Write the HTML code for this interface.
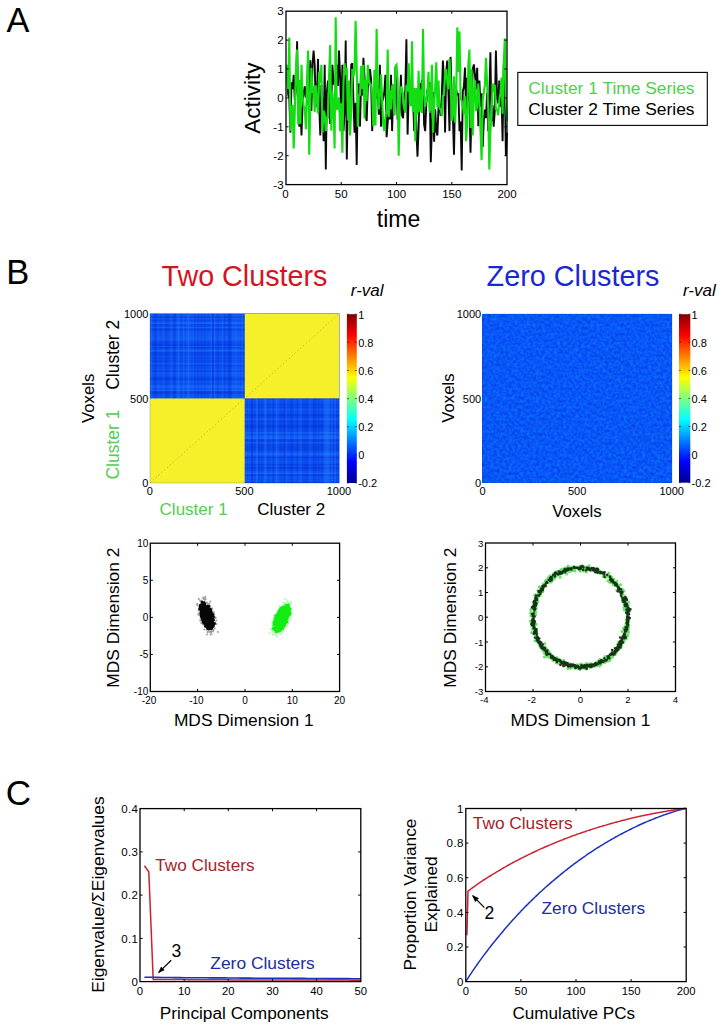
<!DOCTYPE html>
<html><head><meta charset="utf-8"><title>Figure</title>
<style>html,body{margin:0;padding:0;background:#fff;}svg{display:block;font-family:"Liberation Sans", sans-serif;}</style></head><body>
<svg width="725" height="1031" viewBox="0 0 725 1031">
<rect width="725" height="1031" fill="#fff"/>
<defs>
<linearGradient id="jet" x1="0" y1="1" x2="0" y2="0"><stop offset="0" stop-color="#00008f"/><stop offset="0.125" stop-color="#0000ff"/><stop offset="0.375" stop-color="#00ffff"/><stop offset="0.625" stop-color="#ffff00"/><stop offset="0.875" stop-color="#ff0000"/><stop offset="1" stop-color="#800000"/></linearGradient>
<filter id="nz" x="0" y="0" width="1" height="1" color-interpolation-filters="sRGB"><feTurbulence type="fractalNoise" baseFrequency="0.33" numOctaves="2" seed="7" result="t"/><feColorMatrix in="t" type="matrix" values="0 0 0 0 0.03  0.33 0 0 0 0.175  0 0.06 0 0 0.935  0 0 0 0 1"/></filter>
<marker id="ah" viewBox="0 0 10 10" refX="9" refY="5" markerWidth="7" markerHeight="7" orient="auto-start-reverse" markerUnits="userSpaceOnUse"><path d="M0 1.2L10 5L0 8.8z" fill="#000"/></marker>
</defs>
<text x="6.5" y="32.3" font-size="34.3" fill="#000" text-anchor="start">A</text>
<text x="6.2" y="283.6" font-size="34.5" fill="#000" text-anchor="start">B</text>
<text x="5.7" y="805.4" font-size="35" fill="#000" text-anchor="start">C</text>
<polyline points="287.1,71.9 288.2,94.8 289.3,98.3 290.4,132.6 291.5,82.3 292.6,89.2 293.7,74.7 294.8,100.1 295.9,90 297.1,41.3 298.2,109.8 299.3,126.8 300.4,107.2 301.5,135.5 302.6,105 303.7,92.8 304.8,86.3 305.9,97.4 307,89.9 308.1,102.8 309.2,107.5 310.3,60.3 311.4,111 312.5,64.9 313.6,50.5 314.7,64.7 315.8,106.6 316.9,97.5 318,58.9 319.1,103.8 320.3,135.5 321.4,85 322.5,103.5 323.6,141.2 324.7,64.7 325.8,169.6 326.9,91.8 328,80.6 329.1,95.2 330.2,124 331.3,101.9 332.4,64.7 333.5,83.5 334.6,84.9 335.7,75.6 336.8,64.7 337.9,85.9 339,50.5 340.1,76.3 341.2,115.2 342.4,64.7 343.5,131.1 344.6,109.5 345.7,40.4 346.8,159.5 347.9,101.1 349,89.2 350.1,111.1 351.2,64.7 352.3,63.2 353.4,99 354.5,132.6 355.6,102.7 356.7,164.9 357.8,90.8 358.9,83.5 360,126.6 361.1,82.4 362.2,95.4 363.4,57.7 364.5,76.3 365.6,115.5 366.7,121 367.8,87.5 368.9,83.8 370,69 371.1,79.6 372.2,131.1 373.3,96.4 374.4,103.7 375.5,92.2 376.6,98.9 377.7,85.4 378.8,114.8 379.9,64.7 381,126.8 382.1,102.1 383.2,98.2 384.3,92.1 385.4,74.8 386.6,137.2 387.7,122.3 388.8,110.3 389.9,119.4 391,74.8 392.1,131.1 393.2,90.6 394.3,115.2 395.4,67.5 396.5,79.5 397.6,118.7 398.7,118.7 399.8,110.3 400.9,74.8 402,115.1 403.1,118.1 404.2,98.9 405.3,90.3 406.4,39.2 407.6,134.6 408.7,93 409.8,88.7 410.9,92.1 412,98.7 413.1,101.1 414.2,131.1 415.3,92.1 416.4,131.1 417.5,156.6 418.6,127.7 419.7,83.5 420.8,91.3 421.9,80.5 423,79.3 424.1,124.7 425.2,131.1 426.3,104.6 427.4,89.2 428.5,96.1 429.6,82 430.8,162.3 431.9,126.8 433,92.1 434.1,141.8 435.2,109.4 436.3,131.1 437.4,135.5 438.5,107.3 439.6,103.7 440.7,116 441.8,96.1 442.9,60.6 444,80.6 445.1,132.6 446.2,71.6 447.3,60.6 448.4,91.4 449.5,131.1 450.6,56.9 451.8,99.2 452.9,118 454,154.8 455.1,95.1 456.2,89.2 457.3,95.3 458.4,93.1 459.5,131.1 460.6,121.4 461.7,170.4 462.8,91.9 463.9,86.3 465,67.5 466.1,115.5 467.2,77.7 468.3,92.7 469.4,102.6 470.5,152.8 471.6,109.4 472.7,69.2 473.9,64.4 475,75.3 476.1,89.2 477.2,67.7 478.3,126.2 479.4,80.6 480.5,106.7 481.6,93.2 482.7,147 483.8,120.9 484.9,109.5 486,118.1 487.1,92.8 488.2,131.1 489.3,95.9 490.4,52.2 491.5,121 492.6,105.4 493.7,126.8 494.8,110.6 495.9,50.5 497.1,98.7 498.2,103.4 499.3,80.6 500.4,106.6 501.5,96.2 502.6,141.2 503.7,64.7 504.8,84.4 505.9,155.7 507,132.6" fill="none" stroke="#0a0a0a" stroke-width="1.9" stroke-linejoin="miter" stroke-miterlimit="3"/>
<polyline points="287.1,64.7 288.2,89.1 289.3,37.5 290.4,131.1 291.5,109.5 292.6,105.1 293.7,148.5 294.8,110.6 295.9,69 297.1,49.6 298.2,124.5 299.3,80 300.4,123.9 301.5,64.7 302.6,96.9 303.7,106.1 304.8,108.9 305.9,129.2 307,78 308.1,50.5 309.2,154.8 310.3,102.1 311.4,67.8 312.5,93.1 313.6,86.3 314.7,112.3 315.8,85.3 316.9,101.1 318,113.5 319.1,71.9 320.3,82.8 321.4,64.7 322.5,132.6 323.6,110.6 324.7,114.2 325.8,131.1 326.9,116.6 328,118.6 329.1,75.2 330.2,45 331.3,130.7 332.4,92.1 333.5,105.1 334.6,148.5 335.7,17.3 336.8,109.8 337.9,106.6 339,97.3 340.1,131.1 341.2,103.3 342.4,152.8 343.5,80.6 344.6,63.2 345.7,75.3 346.8,67.8 347.9,120.5 349,80.8 350.1,135.5 351.2,110.1 352.3,69 353.4,76.7 354.5,70.9 355.6,21 356.7,64.7 357.8,126.8 358.9,94.9 360,94.8 361.1,66.1 362.2,89 363.4,64.7 364.5,118.6 365.6,79.7 366.7,101 367.8,64.7 368.9,80.6 370,84.2 371.1,84.9 372.2,92.9 373.3,126.1 374.4,69.7 375.5,125.6 376.6,29.1 377.7,85.5 378.8,109.5 379.9,95 381,74.3 382.1,98.4 383.2,123.9 384.3,131.1 385.4,117.6 386.6,109.9 387.7,49.6 388.8,117.3 389.9,90.3 391,109.5 392.1,86.3 393.2,84.2 394.3,115.2 395.4,66.1 396.5,64.7 397.6,80.2 398.7,155.7 399.8,99.5 400.9,86.5 402,89.2 403.1,94.9 404.2,108.6 405.3,112.7 406.4,84.9 407.6,91.6 408.7,63.2 409.8,101.7 410.9,106.3 412,41.3 413.1,111.9 414.2,88.1 415.3,141.2 416.4,88.1 417.5,114.8 418.6,70.7 419.7,111.6 420.8,89.3 421.9,113.1 423,29.1 424.1,93.3 425.2,106.6 426.3,99.5 427.4,92.3 428.5,71.9 429.6,112.8 430.8,101.3 431.9,64.7 433,132.6 434.1,108.4 435.2,86.6 436.3,62.4 437.4,107.2 438.5,80.5 439.6,108.5 440.7,109.5 441.8,116.2 442.9,96.1 444,95.3 445.1,72.8 446.2,69 447.3,83.1 448.4,89.3 449.5,58.9 450.6,81 451.8,121 452.9,115.3 454,76.2 455.1,122.6 456.2,96.7 457.3,27.4 458.4,71.9 459.5,31.4 460.6,98.6 461.7,100.7 462.8,106.6 463.9,114 465,96.4 466.1,141.2 467.2,124.2 468.3,64.7 469.4,49.6 470.5,128 471.6,69.4 472.7,135.5 473.9,90.4 475,80.4 476.1,111 477.2,106.6 478.3,83.5 479.4,100.5 480.5,130.7 481.6,160.3 482.7,100.7 483.8,92.1 484.9,85.1 486,57.7 487.1,83.9 488.2,108.2 489.3,169.6 490.4,131.1 491.5,117.3 492.6,83.5 493.7,92.4 494.8,84.8 495.9,109.2 497.1,109.8 498.2,115.2 499.3,100.5 500.4,92.9 501.5,77.7 502.6,113.7 503.7,64.7 504.8,38.4 505.9,99.8 507,121" fill="none" stroke="#12de12" stroke-width="2.1" stroke-linejoin="miter" stroke-miterlimit="3"/>
<rect x="286" y="11.2" width="221" height="173.4" fill="none" stroke="#000" stroke-width="1.3"/>
<path d="M341.2 184.6v-2.6 M341.2 11.2v2.6 M396.5 184.6v-2.6 M396.5 11.2v2.6 M451.8 184.6v-2.6 M451.8 11.2v2.6 M286 155.7h2.6 M507 155.7h-2.6 M286 126.8h2.6 M507 126.8h-2.6 M286 97.9h2.6 M507 97.9h-2.6 M286 69h2.6 M507 69h-2.6 M286 40.1h2.6 M507 40.1h-2.6" stroke="#000" stroke-width="1" fill="none"/>
<text x="283.6" y="15.4" font-size="11.5" fill="#000" text-anchor="end">3</text>
<text x="283.6" y="44.3" font-size="11.5" fill="#000" text-anchor="end">2</text>
<text x="283.6" y="73.2" font-size="11.5" fill="#000" text-anchor="end">1</text>
<text x="283.6" y="102.1" font-size="11.5" fill="#000" text-anchor="end">0</text>
<text x="283.6" y="131" font-size="11.5" fill="#000" text-anchor="end">-1</text>
<text x="283.6" y="159.9" font-size="11.5" fill="#000" text-anchor="end">-2</text>
<text x="283.6" y="188.8" font-size="11.5" fill="#000" text-anchor="end">-3</text>
<text x="285.5" y="198" font-size="11.5" fill="#000" text-anchor="middle">0</text>
<text x="341.2" y="198" font-size="11.5" fill="#000" text-anchor="middle">50</text>
<text x="396.5" y="198" font-size="11.5" fill="#000" text-anchor="middle">100</text>
<text x="451.8" y="198" font-size="11.5" fill="#000" text-anchor="middle">150</text>
<text x="507" y="198" font-size="11.5" fill="#000" text-anchor="middle">200</text>
<text x="260" y="98" font-size="22.5" fill="#000" text-anchor="middle" transform="rotate(-90 260 98)">Activity</text>
<text x="398.5" y="226.8" font-size="23" fill="#000" text-anchor="middle">time</text>
<rect x="517.8" y="72.4" width="189.5" height="53" fill="#fff" stroke="#000" stroke-width="1.1"/>
<text x="528.3" y="93.6" font-size="17.4" fill="#4fcf4f" text-anchor="start">Cluster 1 Time Series</text>
<text x="528.3" y="114.8" font-size="17.4" fill="#000" text-anchor="start">Cluster 2 Time Series</text>
<text x="244.4" y="285.9" font-size="28.7" fill="#d6141e" text-anchor="middle">Two Clusters</text>
<text x="573" y="285.9" font-size="28.8" fill="#1a28d2" text-anchor="middle">Zero Clusters</text>
<text x="350.8" y="296.2" font-size="17" fill="#000" text-anchor="start" font-style="italic">r-val</text>
<text x="683" y="296.2" font-size="17" fill="#000" text-anchor="start" font-style="italic">r-val</text>
<rect x="150" y="313.6" width="189.3" height="169.4" fill="#0c50f3"/>
<rect x="244.7" y="313.6" width="94.6" height="84.8" fill="#f6f02a"/>
<rect x="150" y="398.4" width="94.7" height="84.6" fill="#f6f02a"/>
<path d="M150 320.2H244.7M150 324.6H244.7M150 326H244.7M150 330.4H244.7M150 342.1H244.7M150 343.6H244.7M150 353.8H244.7M150 355.3H244.7M150 358.2H244.7M150 361.1H244.7M150 380.1H244.7" stroke="#0424c8" stroke-opacity="0.12" stroke-width="1.7" fill="none"/>
<path d="M150 329H244.7M150 352.3H244.7M150 365.5H244.7M150 371.4H244.7" stroke="#0424c8" stroke-opacity="0.22" stroke-width="1.7" fill="none"/>
<path d="M150 317.3H244.7M150 345H244.7M150 348H244.7M150 378.7H244.7M150 391.8H244.7M150 393.3H244.7" stroke="#0424c8" stroke-opacity="0.34" stroke-width="1.7" fill="none"/>
<path d="M150 315.8H244.7M150 331.9H244.7M150 333.3H244.7M150 334.8H244.7M150 336.3H244.7M150 340.6H244.7M150 346.5H244.7M150 349.4H244.7M150 356.7H244.7M150 369.9H244.7M150 374.3H244.7M150 375.7H244.7M150 381.6H244.7M150 394.7H244.7M150 397.7H244.7" stroke="#2c8cff" stroke-opacity="0.12" stroke-width="1.7" fill="none"/>
<path d="M150 318.7H244.7M150 337.7H244.7M150 339.2H244.7M150 364H244.7M150 372.8H244.7" stroke="#2c8cff" stroke-opacity="0.22" stroke-width="1.7" fill="none"/>
<path d="M150 323.1H244.7M150 327.5H244.7M150 350.9H244.7M150 386H244.7M150 387.4H244.7M150 390.4H244.7" stroke="#2c8cff" stroke-opacity="0.34" stroke-width="1.7" fill="none"/>
<path d="M154.1 313.6V398.4M160.6 313.6V398.4M167.1 313.6V398.4M168.8 313.6V398.4M181.8 313.6V398.4M194.9 313.6V398.4M198.2 313.6V398.4M201.4 313.6V398.4M204.7 313.6V398.4M243.9 313.6V398.4" stroke="#0424c8" stroke-opacity="0.12" stroke-width="1.7" fill="none"/>
<path d="M165.5 313.6V398.4M173.7 313.6V398.4M175.3 313.6V398.4M217.8 313.6V398.4M224.3 313.6V398.4M230.8 313.6V398.4" stroke="#0424c8" stroke-opacity="0.22" stroke-width="1.7" fill="none"/>
<path d="M155.7 313.6V398.4M212.9 313.6V398.4M229.2 313.6V398.4" stroke="#0424c8" stroke-opacity="0.34" stroke-width="1.7" fill="none"/>
<path d="M163.9 313.6V398.4M170.4 313.6V398.4M172 313.6V398.4M176.9 313.6V398.4M186.7 313.6V398.4M190 313.6V398.4M193.3 313.6V398.4M232.5 313.6V398.4M234.1 313.6V398.4M237.4 313.6V398.4M239 313.6V398.4" stroke="#2c8cff" stroke-opacity="0.12" stroke-width="1.7" fill="none"/>
<path d="M183.5 313.6V398.4M211.2 313.6V398.4M214.5 313.6V398.4M222.7 313.6V398.4M235.7 313.6V398.4M242.3 313.6V398.4" stroke="#2c8cff" stroke-opacity="0.22" stroke-width="1.7" fill="none"/>
<path d="M150.8 313.6V398.4M178.6 313.6V398.4M188.4 313.6V398.4" stroke="#2c8cff" stroke-opacity="0.34" stroke-width="1.7" fill="none"/>
<path d="M244.7 399.1H339.3M244.7 422.5H339.3M244.7 428.3H339.3M244.7 431.2H339.3M244.7 441.4H339.3M244.7 469.1H339.3" stroke="#0424c8" stroke-opacity="0.12" stroke-width="1.7" fill="none"/>
<path d="M244.7 405H339.3M244.7 407.9H339.3M244.7 416.6H339.3M244.7 421H339.3M244.7 444.3H339.3M244.7 445.8H339.3M244.7 447.3H339.3M244.7 448.7H339.3M244.7 450.2H339.3M244.7 482.3H339.3" stroke="#0424c8" stroke-opacity="0.22" stroke-width="1.7" fill="none"/>
<path d="M244.7 415.2H339.3M244.7 425.4H339.3M244.7 426.8H339.3M244.7 440H339.3M244.7 457.5H339.3M244.7 464.8H339.3M244.7 467.7H339.3M244.7 475H339.3" stroke="#0424c8" stroke-opacity="0.34" stroke-width="1.7" fill="none"/>
<path d="M244.7 400.6H339.3M244.7 435.6H339.3M244.7 461.9H339.3M244.7 466.2H339.3M244.7 472.1H339.3M244.7 477.9H339.3M244.7 480.8H339.3" stroke="#2c8cff" stroke-opacity="0.12" stroke-width="1.7" fill="none"/>
<path d="M244.7 409.3H339.3M244.7 419.5H339.3M244.7 442.9H339.3M244.7 453.1H339.3" stroke="#2c8cff" stroke-opacity="0.22" stroke-width="1.7" fill="none"/>
<path d="M244.7 432.7H339.3M244.7 437.1H339.3M244.7 438.5H339.3M244.7 454.6H339.3M244.7 473.5H339.3" stroke="#2c8cff" stroke-opacity="0.34" stroke-width="1.7" fill="none"/>
<path d="M261.8 398.4V483M268.4 398.4V483M281.4 398.4V483M292.8 398.4V483M297.7 398.4V483M302.6 398.4V483M304.2 398.4V483M305.9 398.4V483M318.9 398.4V483M322.2 398.4V483M333.6 398.4V483M336.9 398.4V483M338.5 398.4V483" stroke="#0424c8" stroke-opacity="0.12" stroke-width="1.7" fill="none"/>
<path d="M258.6 398.4V483M273.2 398.4V483M291.2 398.4V483M307.5 398.4V483M314 398.4V483M315.6 398.4V483" stroke="#0424c8" stroke-opacity="0.22" stroke-width="1.7" fill="none"/>
<path d="M252 398.4V483M284.7 398.4V483" stroke="#0424c8" stroke-opacity="0.34" stroke-width="1.7" fill="none"/>
<path d="M245.5 398.4V483M248.8 398.4V483M266.7 398.4V483M271.6 398.4V483M278.1 398.4V483M294.4 398.4V483M299.3 398.4V483M309.1 398.4V483M310.8 398.4V483M323.8 398.4V483" stroke="#2c8cff" stroke-opacity="0.12" stroke-width="1.7" fill="none"/>
<path d="M286.3 398.4V483M301 398.4V483M332 398.4V483M335.2 398.4V483" stroke="#2c8cff" stroke-opacity="0.22" stroke-width="1.7" fill="none"/>
<path d="M256.9 398.4V483M265.1 398.4V483M276.5 398.4V483M325.4 398.4V483M327.1 398.4V483M328.7 398.4V483" stroke="#2c8cff" stroke-opacity="0.34" stroke-width="1.7" fill="none"/>
<path d="M150 483L339.3 313.6" stroke="#c09c28" stroke-opacity="0.7" stroke-width="0.9" stroke-dasharray="1.6 2.2" fill="none"/>
<rect x="150" y="313.6" width="189.3" height="169.4" fill="none" stroke="#10308c" stroke-opacity="0.3" stroke-width="0.7"/>
<text x="148.4" y="317.7" font-size="11" fill="#000" text-anchor="end">1000</text>
<text x="148.4" y="402.5" font-size="11" fill="#000" text-anchor="end">500</text>
<text x="148.4" y="487.1" font-size="11" fill="#000" text-anchor="end">0</text>
<text x="149.7" y="495.4" font-size="11" fill="#000" text-anchor="middle">0</text>
<text x="244.4" y="495.4" font-size="11" fill="#000" text-anchor="middle">500</text>
<text x="339" y="495.4" font-size="11" fill="#000" text-anchor="middle">1000</text>
<text x="94.2" y="398.3" font-size="16.8" fill="#000" text-anchor="middle" transform="rotate(-90 94.2 398.3)">Voxels</text>
<text x="119.3" y="354.8" font-size="17.5" fill="#000" text-anchor="middle" transform="rotate(-90 119.3 354.8)">Cluster 2</text>
<text x="119.3" y="444.5" font-size="17.5" fill="#55cc55" text-anchor="middle" transform="rotate(-90 119.3 444.5)">Cluster 1</text>
<text x="159.6" y="514.8" font-size="17" fill="#55cc55" text-anchor="start">Cluster 1</text>
<text x="257.2" y="514.8" font-size="17" fill="#000" text-anchor="start">Cluster 2</text>
<rect x="346.9" y="314.2" width="9.9" height="168.8" fill="url(#jet)"/>
<text x="358.2" y="318.6" font-size="11" fill="#000" text-anchor="start">1</text>
<path d="M356.8 314.2h-2M346.9 314.2h2" stroke="#222" stroke-width="0.7"/>
<text x="358.2" y="346.7" font-size="11" fill="#000" text-anchor="start">0.8</text>
<path d="M356.8 342.3h-2M346.9 342.3h2" stroke="#222" stroke-width="0.7"/>
<text x="358.2" y="374.9" font-size="11" fill="#000" text-anchor="start">0.6</text>
<path d="M356.8 370.5h-2M346.9 370.5h2" stroke="#222" stroke-width="0.7"/>
<text x="358.2" y="403" font-size="11" fill="#000" text-anchor="start">0.4</text>
<path d="M356.8 398.6h-2M346.9 398.6h2" stroke="#222" stroke-width="0.7"/>
<text x="358.2" y="431.1" font-size="11" fill="#000" text-anchor="start">0.2</text>
<path d="M356.8 426.7h-2M346.9 426.7h2" stroke="#222" stroke-width="0.7"/>
<text x="358.2" y="459.3" font-size="11" fill="#000" text-anchor="start">0</text>
<path d="M356.8 454.9h-2M346.9 454.9h2" stroke="#222" stroke-width="0.7"/>
<text x="358.2" y="487.4" font-size="11" fill="#000" text-anchor="start">-0.2</text>
<path d="M356.8 483h-2M346.9 483h2" stroke="#222" stroke-width="0.7"/>
<rect x="482.8" y="314" width="189.2" height="168.7" fill="#0a58f6"/>
<rect x="482.8" y="314" width="189.2" height="168.7" fill="#1248f2" filter="url(#nz)"/>
<rect x="482.8" y="314" width="189.2" height="168.7" fill="none" stroke="#10308c" stroke-opacity="0.3" stroke-width="0.7"/>
<text x="481.2" y="318.1" font-size="11" fill="#000" text-anchor="end">1000</text>
<text x="481.2" y="402.5" font-size="11" fill="#000" text-anchor="end">500</text>
<text x="481.2" y="486.8" font-size="11" fill="#000" text-anchor="end">0</text>
<text x="482.5" y="495.4" font-size="11" fill="#000" text-anchor="middle">0</text>
<text x="577.1" y="495.4" font-size="11" fill="#000" text-anchor="middle">500</text>
<text x="671.7" y="495.4" font-size="11" fill="#000" text-anchor="middle">1000</text>
<text x="453.5" y="398" font-size="16.8" fill="#000" text-anchor="middle" transform="rotate(-90 453.5 398)">Voxels</text>
<text x="577" y="517.4" font-size="16.8" fill="#000" text-anchor="middle">Voxels</text>
<rect x="679" y="314.2" width="11.3" height="168.5" fill="url(#jet)"/>
<text x="691.6" y="318.6" font-size="11" fill="#000" text-anchor="start">1</text>
<path d="M690.3 314.2h-2M679 314.2h2" stroke="#222" stroke-width="0.7"/>
<text x="691.6" y="346.7" font-size="11" fill="#000" text-anchor="start">0.8</text>
<path d="M690.3 342.3h-2M679 342.3h2" stroke="#222" stroke-width="0.7"/>
<text x="691.6" y="374.8" font-size="11" fill="#000" text-anchor="start">0.6</text>
<path d="M690.3 370.4h-2M679 370.4h2" stroke="#222" stroke-width="0.7"/>
<text x="691.6" y="402.8" font-size="11" fill="#000" text-anchor="start">0.4</text>
<path d="M690.3 398.4h-2M679 398.4h2" stroke="#222" stroke-width="0.7"/>
<text x="691.6" y="430.9" font-size="11" fill="#000" text-anchor="start">0.2</text>
<path d="M690.3 426.5h-2M679 426.5h2" stroke="#222" stroke-width="0.7"/>
<text x="691.6" y="459" font-size="11" fill="#000" text-anchor="start">0</text>
<path d="M690.3 454.6h-2M679 454.6h2" stroke="#222" stroke-width="0.7"/>
<text x="691.6" y="487.1" font-size="11" fill="#000" text-anchor="start">-0.2</text>
<path d="M690.3 482.7h-2M679 482.7h2" stroke="#222" stroke-width="0.7"/>
<path d="M209.3 618.6h0M206.5 613.6h0M207 634.4h0M211.4 612.7h0M213.1 614.8h0M213.4 625.9h0M206.1 609.4h0M209 610.9h0M207.5 617.2h0M206.5 613.7h0M208.8 606.4h0M206.1 614.7h0M210.3 612.2h0M206.4 620.8h0M202.7 604.8h0M199.2 613.2h0M207.2 624.6h0M211.7 628.5h0M202.7 606h0M208 620.5h0M206.9 608.6h0M209.3 608.8h0M201.9 611h0M201.7 614.5h0M210.6 622.4h0M209.3 620.6h0M208.5 615.9h0M203.3 614.4h0M203.6 617.1h0M209.3 614.5h0M209.8 621.1h0M207.1 611.2h0M206.4 616.2h0M204.6 616h0M203.8 616.6h0M208.4 617.4h0M210.3 616.4h0M208.5 625.6h0M205.1 616h0M211.5 626.4h0M205.8 614.1h0M204.9 613.1h0M204.7 617.5h0M207.6 618.5h0M206.2 618.3h0M209.4 625h0M212.3 622.9h0M206.1 620h0M206 613.8h0M203.8 616.3h0M213.5 624.6h0M209.5 616.9h0M203.1 607.3h0M210.4 609.7h0M206.1 611.9h0M210.9 623.5h0M207.9 614.9h0M212.8 631.2h0M214.8 618.4h0M207.2 616.9h0M205.8 613.1h0M206.2 623.6h0M202.3 615.7h0M204.1 610.7h0M205.6 620.8h0M213.9 613.9h0M208.1 624.7h0M203.7 616.5h0M198.7 599h0M208.1 621.6h0M203.8 602.8h0M211.5 626.2h0M211 628.5h0M204.8 613.5h0M202.8 608.6h0M204.2 606.3h0M212.5 620.8h0M201.3 616.3h0M208.1 611.1h0M213.9 611.9h0M207.6 631.6h0M204.9 619.3h0M208.1 621.3h0M206 622.2h0M208 623.4h0M211.7 622.5h0M205.1 611.2h0M210 613.4h0M207.2 610.2h0M207.9 610.3h0M209.1 624h0M202.8 613.6h0M208.7 614.9h0M204.1 611.7h0M211.8 610h0M211.8 620.4h0M204.5 613.4h0M203.2 613.6h0M205.4 620.3h0M205.1 620.4h0M213.4 619.9h0M208.9 616.7h0M210.4 601.6h0M208.9 620.2h0M207.4 619.6h0M210.2 622.7h0M207.8 609.3h0M211.4 633.7h0M202.7 608.1h0M208.2 621.1h0M208.8 615.8h0M205.8 612.7h0M208.6 621.7h0M205.6 614.3h0M200 600.6h0M204.5 608h0M212.1 617.8h0M212.8 631.1h0M202.6 606.2h0M208.2 615.5h0M209.6 626.1h0M210.3 619.5h0M202.3 614.7h0M202.7 606.6h0M202.6 603.9h0M203.2 611.6h0M204 614.2h0M201.7 600.7h0M200.4 605.3h0M205.8 618.7h0M205.5 613.4h0M205.3 610.8h0M209.3 612.2h0M204.6 610.6h0M208.6 622.5h0M213 626.5h0M207.7 631.5h0M208.6 620.9h0M211.7 620.1h0M211.5 625.6h0M211 627.9h0M210.4 626h0M211.9 623.6h0M205.5 611.7h0M207.6 603.7h0M210.2 621.6h0M205.6 615.8h0M208.8 615h0M203.2 610.5h0M201.8 607.8h0M211.8 625h0M214.9 617h0M202.1 609.5h0M204 619.9h0M212.2 616.6h0M207.6 619.8h0M211.1 631.6h0M211.5 614.3h0M205.7 606.7h0M203.5 617.4h0M204.9 611.8h0M208.1 619.8h0M204.1 618.5h0M209.4 617.8h0M210.8 610.5h0M204 620.1h0M208 611.8h0M208.1 619.6h0M202.9 615h0M203.6 608.6h0M207.6 619.6h0M207.1 610.6h0M208.5 626.5h0M201.6 621.1h0M209.6 618.7h0M210.3 615.7h0M205.9 615.9h0M203.6 599h0M209.3 624.5h0M205 610.5h0M207.6 623h0M204.9 611.9h0M205.7 615.4h0M202.7 615.7h0M207.3 608h0M206.3 614.9h0M207 619.6h0M209.4 612.1h0M206.7 606.5h0M206.5 611.8h0M208.9 617.3h0M206.2 624.9h0M208.3 621.9h0M200.2 620.4h0M205.7 608.9h0M209.8 622h0M200.5 618.3h0M207.9 613.9h0M202.6 624.3h0M215.8 617.8h0M209.9 618.9h0M200.3 609.5h0M200.9 613.4h0M201.7 604.8h0M209.1 616.8h0M207.3 616.1h0M206.7 623.2h0M206.4 617.8h0M203.3 614.4h0M213.6 629.8h0M202.1 609.8h0M200.2 608.1h0M198.2 614.2h0M205.9 620.3h0M204 614.3h0M208.2 612.3h0M208.1 607.1h0M216.6 624h0M204.1 612.2h0M198.6 610.5h0M206.8 615.1h0M212.1 608.2h0M205.7 614.7h0M210.4 625h0M206.9 612.7h0M201.7 617.4h0M202.4 614.7h0M202.1 616.1h0M210.9 620.9h0M206.9 620h0M209.2 612.7h0M201.4 610.8h0M209.7 614.1h0M205 622.9h0M206 616.2h0M205.8 615.4h0M206.9 602.4h0M207 623.5h0M208.7 604.2h0M207.5 606.1h0M208.6 612.6h0M201 618.2h0M206.6 616.5h0M207 610.2h0M204.6 614.4h0M198.6 614.1h0M203.2 603.5h0M209.2 613.3h0M208.4 610.3h0M207.9 618.9h0M201.7 616.6h0M209.4 622.5h0M209 620.6h0M211.6 621.3h0M212.8 623.3h0M205.4 621.8h0M205.5 615.2h0M208.7 625.7h0M208.7 608.4h0M205.1 616.3h0M207.8 622.2h0M201.8 615.5h0M205.4 621.9h0M205.7 610.3h0M204.7 612.7h0M207.1 620.1h0M208.7 620.8h0M212 623.4h0M204.1 616.4h0M201 620.2h0M208.5 620.2h0M203.2 620.8h0M204.9 606.8h0M206.6 611.8h0M210.1 625.9h0M204.9 607.3h0M205.5 621.3h0M202.6 614.2h0M216.4 620.5h0M202.8 611.5h0M205.8 616.8h0M197.3 603.8h0M209.3 614.9h0M208.9 623.5h0M200 606.9h0M206.9 625h0M200.9 612.6h0M209 615h0M203 597.6h0M207.6 624h0M208.8 608.8h0M204.4 612.8h0M201.3 608.2h0M203.6 609.6h0M213.3 622.6h0M207.4 612h0M209.8 621.9h0M205.3 615.2h0M206.9 618.6h0M207 612.2h0M212.6 617.4h0M217.9 632.1h0M211.3 619.6h0M211 618.5h0M207.7 612.2h0M212.3 621.9h0M210.4 625.2h0M204.9 603.8h0M203.3 606.7h0M211.7 630.4h0M206.2 619.5h0M210 616h0M210.8 619h0M212.6 622.5h0M208.5 621.6h0M204.4 615.2h0M208.3 631.2h0M206.5 616.2h0M205.4 609.9h0M203.6 612.9h0M206.8 615.1h0M209 612.5h0M204.4 615.4h0M208.9 617.8h0M205.4 596.8h0M205.8 610.5h0M211.5 621.7h0M208.4 619.8h0M207.5 610.7h0M206.5 611.4h0M211.3 623.2h0M206.8 614.2h0M204.2 612.9h0M210.4 628.9h0M206.2 613.5h0M205.6 621.6h0M210.8 614.4h0M206.6 616.5h0M201.5 610.6h0M203.6 610.9h0M206.6 625.7h0M207.1 607.3h0M204.3 619h0M206.3 607.2h0M203.2 615.4h0M206.2 616h0M200.9 605.6h0M211.8 623h0M207.2 614.5h0M215 622.6h0M203.9 609.9h0M206.9 622.9h0M211.1 632.3h0M204.2 618.6h0M203.7 612.2h0M207.6 619.4h0M205.6 617.5h0M208 614.1h0M204 616.1h0M204.8 612.3h0M206.9 619.3h0M206.4 613.3h0M206.6 609.6h0M211.4 620.7h0M207.3 614.7h0M210.6 634.5h0M211.3 612.7h0M204.9 611.3h0M198.4 614.7h0M207 618.8h0M205.6 611.2h0M202.8 607.8h0M210.8 627.2h0M203.6 607.7h0M209.6 626.6h0M209.8 616.2h0M200.9 610h0M209.7 627.7h0M203 615.8h0M203.9 609.4h0M203.7 617.6h0M209.3 625h0M201.1 623.1h0M205.2 622.9h0M206.7 629.4h0M207.2 617.6h0M211.8 617.3h0M206.9 614.3h0M201.8 606.7h0M205.8 615.3h0M211.8 626.7h0M204.8 603.6h0M213 624.2h0M208.4 617.5h0M202.8 610.5h0M204.9 617.2h0M208.8 628.9h0M205.9 612h0M207.9 621.7h0M209.2 623.9h0M203.4 610.4h0M207.3 620.7h0M206.1 620.3h0M206 612.7h0M208.5 620.7h0M202 614.9h0M201.8 613.3h0M210 605.7h0M206.7 619h0M204.9 613.4h0M203.2 613h0M210.3 606.2h0M208.6 605.1h0M206.4 610.2h0M208.3 621.1h0M208.4 609.4h0M207.1 626.9h0M205.1 619.7h0M205.6 617.7h0M202 608.5h0M214.7 628.3h0M204.3 606h0M214.8 617.5h0M208.1 628.5h0M203.4 615.7h0M204.4 611.7h0M209.9 614.9h0M209 622.3h0M207.4 626.2h0M211.9 619h0M204 608.9h0M203.5 612h0M209.7 616.7h0M205.8 606.7h0M203.2 615.4h0M209.9 632h0M200.7 610.1h0M208.9 624.2h0M207.7 608.7h0M206.4 613.6h0M208.6 614.9h0M204.4 605.5h0M205.4 615.7h0M205.6 626.3h0M208.1 621.1h0M203.3 622.5h0M208.8 609.3h0M207.1 614.9h0M207.3 617.4h0M214.4 618.7h0M214.5 623.7h0M205.6 608.9h0M210.4 627.8h0M205.1 614.5h0M206.1 614.4h0M205.1 607.5h0M210.6 614.3h0M206.3 614.5h0M199.6 609h0M205 614.4h0M209.1 616.2h0M205.6 613.3h0M207.4 621.8h0M201.1 610.2h0M210.4 621.6h0M205.1 615.2h0M206.1 619.1h0M203.6 603.1h0M207.4 616.8h0M207.9 615.2h0M208.8 622.5h0M203.5 608.2h0M213.3 624.3h0M204.9 608.5h0M205.5 626.4h0M208.2 620h0M210.4 609.2h0M207.6 632.2h0M204.9 607.6h0M206 615h0M205.8 617.9h0M209.2 619.2h0M210.2 616.7h0M210.7 620.8h0M207.1 619.4h0M207 616.3h0M205.6 609.4h0M200.1 615.6h0M208.2 622.5h0M201.6 608.9h0M201.1 618.7h0M201.9 602.1h0M206.4 610.9h0M203.9 604.7h0M209.3 624.7h0M197.7 605.2h0M203.3 615.4h0M209 620.9h0M209.8 619.7h0M206.4 622h0M204.1 625h0M209.5 618.8h0M204.2 623.2h0M205.8 616h0M206.7 615.9h0M203.5 603.8h0M209 616.6h0M210.9 624.3h0M201.6 612.1h0M208.1 606.8h0M208.2 616.3h0M209.4 623.8h0M212.7 623.3h0M204.8 605.4h0M211.8 617.9h0M203.6 612.1h0M205.6 618.6h0M205.7 599.3h0M204.9 623.7h0M208.8 612.4h0M212.7 615.7h0M211.5 613.2h0M203.3 609.4h0M214.7 617.5h0M206.1 612.6h0M204.7 611.5h0M205.6 621.4h0M207.7 615.1h0M202.1 612.3h0M210.2 622.1h0M203 612.8h0M209.6 614.9h0M207.7 621.3h0M209.9 622.2h0M209.1 624.4h0M204.4 629.4h0M207 616.3h0M205 610.6h0M210.2 627.4h0M209.1 625.9h0M212.5 611.9h0M206.4 621.5h0M209.9 612.2h0M209.2 603.5h0M209 623.2h0M211.2 617.2h0M206.6 617.1h0M207.6 628.6h0M210.1 625.8h0M208.4 610.7h0M204.2 608.5h0M197 604.9h0M206.8 616.1h0M201.1 615h0M203.6 619.9h0M210.4 615h0M203 612.3h0M209.8 612h0M201.9 605.9h0M208.1 624.9h0M206.3 612.2h0M212.8 618.7h0M206.5 611.2h0M208.1 616.2h0M207 620.8h0M206.6 614.1h0M203.7 610.9h0M213.1 631.6h0M211.1 613.2h0M208.4 619.9h0M202.8 616.7h0M207.7 609.9h0M212.8 624h0M213.4 616.9h0M202.5 620.1h0M204.9 599.4h0M204.6 619h0M208.4 621.9h0M208 617.8h0M206.5 615.1h0M204.4 625.9h0M202.7 619.3h0M206.8 620.5h0M210.5 622.7h0M205.1 624.2h0M202.1 607.6h0M207.4 618.4h0M203.8 611.3h0M204.7 601.6h0M205.5 618.6h0M203.9 603.9h0M206.6 612.6h0M204.7 597.8h0M204.4 609.1h0M204.7 613.2h0M211.1 614.6h0M204.9 612.6h0M203.6 610.1h0M201.3 611h0M207.2 627.6h0" stroke="#444" stroke-width="2.0" stroke-opacity="0.5" stroke-linecap="round" fill="none"/>
<path d="M209.3 618.6h0M206.5 613.6h0M211.4 612.7h0M213.1 614.8h0M213.4 625.9h0M206.1 609.4h0M209 610.9h0M207.5 617.2h0M206.5 613.7h0M208.8 606.4h0M206.1 614.7h0M210.3 612.2h0M206.4 620.8h0M202.7 604.8h0M207.2 624.6h0M211.7 628.5h0M202.7 606h0M208 620.5h0M206.9 608.6h0M209.3 608.8h0M201.9 611h0M201.7 614.5h0M210.6 622.4h0M209.3 620.6h0M208.5 615.9h0M203.3 614.4h0M203.6 617.1h0M209.3 614.5h0M209.8 621.1h0M207.1 611.2h0M206.4 616.2h0M204.6 616h0M203.8 616.6h0M208.4 617.4h0M210.3 616.4h0M208.5 625.6h0M205.1 616h0M211.5 626.4h0M205.8 614.1h0M204.9 613.1h0M204.7 617.5h0M207.6 618.5h0M206.2 618.3h0M209.4 625h0M212.3 622.9h0M206.1 620h0M206 613.8h0M203.8 616.3h0M213.5 624.6h0M209.5 616.9h0M203.1 607.3h0M210.4 609.7h0M206.1 611.9h0M210.9 623.5h0M207.9 614.9h0M207.2 616.9h0M205.8 613.1h0M206.2 623.6h0M202.3 615.7h0M204.1 610.7h0M205.6 620.8h0M208.1 624.7h0M203.7 616.5h0M208.1 621.6h0M203.8 602.8h0M211.5 626.2h0M211 628.5h0M204.8 613.5h0M202.8 608.6h0M204.2 606.3h0M212.5 620.8h0M201.3 616.3h0M208.1 611.1h0M204.9 619.3h0M208.1 621.3h0M206 622.2h0M208 623.4h0M211.7 622.5h0M205.1 611.2h0M210 613.4h0M207.2 610.2h0M207.9 610.3h0M209.1 624h0M202.8 613.6h0M208.7 614.9h0M204.1 611.7h0M211.8 620.4h0M204.5 613.4h0M203.2 613.6h0M205.4 620.3h0M205.1 620.4h0M213.4 619.9h0M208.9 616.7h0M208.9 620.2h0M207.4 619.6h0M210.2 622.7h0M207.8 609.3h0M202.7 608.1h0M208.2 621.1h0M208.8 615.8h0M205.8 612.7h0M208.6 621.7h0M205.6 614.3h0M204.5 608h0M212.1 617.8h0M202.6 606.2h0M208.2 615.5h0M209.6 626.1h0M210.3 619.5h0M202.3 614.7h0M202.7 606.6h0M202.6 603.9h0M203.2 611.6h0M204 614.2h0M200.4 605.3h0M205.8 618.7h0M205.5 613.4h0M205.3 610.8h0M209.3 612.2h0M204.6 610.6h0M208.6 622.5h0M213 626.5h0M208.6 620.9h0M211.7 620.1h0M211.5 625.6h0M211 627.9h0M210.4 626h0M211.9 623.6h0M205.5 611.7h0M210.2 621.6h0M205.6 615.8h0M208.8 615h0M203.2 610.5h0M201.8 607.8h0M211.8 625h0M202.1 609.5h0M204 619.9h0M212.2 616.6h0M207.6 619.8h0M211.5 614.3h0M205.7 606.7h0M203.5 617.4h0M204.9 611.8h0M208.1 619.8h0M204.1 618.5h0M209.4 617.8h0M210.8 610.5h0M204 620.1h0M208 611.8h0M208.1 619.6h0M202.9 615h0M203.6 608.6h0M207.6 619.6h0M207.1 610.6h0M208.5 626.5h0M209.6 618.7h0M210.3 615.7h0M205.9 615.9h0M209.3 624.5h0M205 610.5h0M207.6 623h0M204.9 611.9h0M205.7 615.4h0M202.7 615.7h0M207.3 608h0M206.3 614.9h0M207 619.6h0M209.4 612.1h0M206.7 606.5h0M206.5 611.8h0M208.9 617.3h0M206.2 624.9h0M208.3 621.9h0M205.7 608.9h0M209.8 622h0M207.9 613.9h0M209.9 618.9h0M200.3 609.5h0M200.9 613.4h0M201.7 604.8h0M209.1 616.8h0M207.3 616.1h0M206.7 623.2h0M206.4 617.8h0M203.3 614.4h0M202.1 609.8h0M200.2 608.1h0M205.9 620.3h0M204 614.3h0M208.2 612.3h0M208.1 607.1h0M204.1 612.2h0M206.8 615.1h0M205.7 614.7h0M210.4 625h0M206.9 612.7h0M201.7 617.4h0M202.4 614.7h0M202.1 616.1h0M210.9 620.9h0M206.9 620h0M209.2 612.7h0M201.4 610.8h0M209.7 614.1h0M205 622.9h0M206 616.2h0M205.8 615.4h0M207 623.5h0M207.5 606.1h0M208.6 612.6h0M206.6 616.5h0M207 610.2h0M204.6 614.4h0M203.2 603.5h0M209.2 613.3h0M208.4 610.3h0M207.9 618.9h0M201.7 616.6h0M209.4 622.5h0M209 620.6h0M211.6 621.3h0M212.8 623.3h0M205.4 621.8h0M205.5 615.2h0M208.7 625.7h0M208.7 608.4h0M205.1 616.3h0M207.8 622.2h0M201.8 615.5h0M205.4 621.9h0M205.7 610.3h0M204.7 612.7h0M207.1 620.1h0M208.7 620.8h0M212 623.4h0M204.1 616.4h0M208.5 620.2h0M203.2 620.8h0M204.9 606.8h0M206.6 611.8h0M210.1 625.9h0M204.9 607.3h0M205.5 621.3h0M202.6 614.2h0M202.8 611.5h0M205.8 616.8h0M209.3 614.9h0M208.9 623.5h0M200 606.9h0M206.9 625h0M200.9 612.6h0M209 615h0M207.6 624h0M208.8 608.8h0M204.4 612.8h0M201.3 608.2h0M203.6 609.6h0M213.3 622.6h0M207.4 612h0M209.8 621.9h0M205.3 615.2h0M206.9 618.6h0M207 612.2h0M212.6 617.4h0M211.3 619.6h0M211 618.5h0M207.7 612.2h0M212.3 621.9h0M210.4 625.2h0M204.9 603.8h0M203.3 606.7h0M206.2 619.5h0M210 616h0M210.8 619h0M212.6 622.5h0M208.5 621.6h0M204.4 615.2h0M206.5 616.2h0M205.4 609.9h0M203.6 612.9h0M206.8 615.1h0M209 612.5h0M204.4 615.4h0M208.9 617.8h0M205.8 610.5h0M211.5 621.7h0M208.4 619.8h0M207.5 610.7h0M206.5 611.4h0M211.3 623.2h0M206.8 614.2h0M204.2 612.9h0M210.4 628.9h0M206.2 613.5h0M205.6 621.6h0M210.8 614.4h0M206.6 616.5h0M201.5 610.6h0M203.6 610.9h0M206.6 625.7h0M207.1 607.3h0M204.3 619h0M206.3 607.2h0M203.2 615.4h0M206.2 616h0M200.9 605.6h0M211.8 623h0M207.2 614.5h0M203.9 609.9h0M206.9 622.9h0M204.2 618.6h0M203.7 612.2h0M207.6 619.4h0M205.6 617.5h0M208 614.1h0M204 616.1h0M204.8 612.3h0M206.9 619.3h0M206.4 613.3h0M206.6 609.6h0M211.4 620.7h0M207.3 614.7h0M211.3 612.7h0M204.9 611.3h0M207 618.8h0M205.6 611.2h0M202.8 607.8h0M210.8 627.2h0M203.6 607.7h0M209.6 626.6h0M209.8 616.2h0M200.9 610h0M209.7 627.7h0M203 615.8h0M203.9 609.4h0M203.7 617.6h0M209.3 625h0M205.2 622.9h0M207.2 617.6h0M211.8 617.3h0M206.9 614.3h0M201.8 606.7h0M205.8 615.3h0M211.8 626.7h0M204.8 603.6h0M213 624.2h0M208.4 617.5h0M202.8 610.5h0M204.9 617.2h0M208.8 628.9h0M205.9 612h0M207.9 621.7h0M209.2 623.9h0M203.4 610.4h0M207.3 620.7h0M206.1 620.3h0M206 612.7h0M208.5 620.7h0M202 614.9h0M201.8 613.3h0M206.7 619h0M204.9 613.4h0M203.2 613h0M206.4 610.2h0M208.3 621.1h0M208.4 609.4h0M207.1 626.9h0M205.1 619.7h0M205.6 617.7h0M202 608.5h0M204.3 606h0M208.1 628.5h0M203.4 615.7h0M204.4 611.7h0M209.9 614.9h0M209 622.3h0M207.4 626.2h0M211.9 619h0M204 608.9h0M203.5 612h0M209.7 616.7h0M205.8 606.7h0M203.2 615.4h0M200.7 610.1h0M208.9 624.2h0M207.7 608.7h0M206.4 613.6h0M208.6 614.9h0M204.4 605.5h0M205.4 615.7h0M205.6 626.3h0M208.1 621.1h0M203.3 622.5h0M208.8 609.3h0M207.1 614.9h0M207.3 617.4h0M214.5 623.7h0M205.6 608.9h0M210.4 627.8h0M205.1 614.5h0M206.1 614.4h0M205.1 607.5h0M210.6 614.3h0M206.3 614.5h0M199.6 609h0M205 614.4h0M209.1 616.2h0M205.6 613.3h0M207.4 621.8h0M201.1 610.2h0M210.4 621.6h0M205.1 615.2h0M206.1 619.1h0M203.6 603.1h0M207.4 616.8h0M207.9 615.2h0M208.8 622.5h0M203.5 608.2h0M213.3 624.3h0M204.9 608.5h0M205.5 626.4h0M208.2 620h0M210.4 609.2h0M204.9 607.6h0M206 615h0M205.8 617.9h0M209.2 619.2h0M210.2 616.7h0M210.7 620.8h0M207.1 619.4h0M207 616.3h0M205.6 609.4h0M208.2 622.5h0M201.6 608.9h0M201.9 602.1h0M206.4 610.9h0M203.9 604.7h0M209.3 624.7h0M203.3 615.4h0M209 620.9h0M209.8 619.7h0M206.4 622h0M209.5 618.8h0M204.2 623.2h0M205.8 616h0M206.7 615.9h0M203.5 603.8h0M209 616.6h0M210.9 624.3h0M201.6 612.1h0M208.1 606.8h0M208.2 616.3h0M209.4 623.8h0M212.7 623.3h0M204.8 605.4h0M211.8 617.9h0M203.6 612.1h0M205.6 618.6h0M204.9 623.7h0M208.8 612.4h0M212.7 615.7h0M211.5 613.2h0M203.3 609.4h0M206.1 612.6h0M204.7 611.5h0M205.6 621.4h0M207.7 615.1h0M202.1 612.3h0M210.2 622.1h0M203 612.8h0M209.6 614.9h0M207.7 621.3h0M209.9 622.2h0M209.1 624.4h0M207 616.3h0M205 610.6h0M210.2 627.4h0M209.1 625.9h0M206.4 621.5h0M209.9 612.2h0M209 623.2h0M211.2 617.2h0M206.6 617.1h0M207.6 628.6h0M210.1 625.8h0M208.4 610.7h0M204.2 608.5h0M206.8 616.1h0M201.1 615h0M203.6 619.9h0M210.4 615h0M203 612.3h0M209.8 612h0M201.9 605.9h0M208.1 624.9h0M206.3 612.2h0M212.8 618.7h0M206.5 611.2h0M208.1 616.2h0M207 620.8h0M206.6 614.1h0M203.7 610.9h0M211.1 613.2h0M208.4 619.9h0M202.8 616.7h0M207.7 609.9h0M212.8 624h0M213.4 616.9h0M202.5 620.1h0M204.6 619h0M208.4 621.9h0M208 617.8h0M206.5 615.1h0M202.7 619.3h0M206.8 620.5h0M210.5 622.7h0M205.1 624.2h0M202.1 607.6h0M207.4 618.4h0M203.8 611.3h0M205.5 618.6h0M203.9 603.9h0M206.6 612.6h0M204.4 609.1h0M204.7 613.2h0M211.1 614.6h0M204.9 612.6h0M203.6 610.1h0M201.3 611h0M207.2 627.6h0" stroke="#060606" stroke-width="2.9" stroke-opacity="1" stroke-linecap="round" fill="none"/>
<path d="M276.4 620.3h0M283.2 609.1h0M279.9 613.2h0M282.3 620h0M283.2 624.8h0M284.9 612.4h0M288.3 614.6h0M281.9 621.8h0M286 617.5h0M285 622.8h0M277.3 622.1h0M283.9 626.3h0M281.3 613h0M280.2 614.9h0M285.4 616.8h0M280.1 615.5h0M279.1 616.4h0M286.9 613.2h0M276.2 628.4h0M282.7 612.1h0M276.3 624.6h0M278.6 618.2h0M282.8 617.7h0M281.5 617.8h0M281.4 614.4h0M285.1 626.7h0M288.7 608.2h0M281.5 609.5h0M284.3 615.2h0M282 612.6h0M279.2 620h0M282 632h0M280.9 629.8h0M284.1 615.5h0M277.1 636.6h0M282.4 606.2h0M285.1 616.4h0M281.2 625.3h0M278.1 620.8h0M272.3 626.4h0M283.1 619.7h0M283.7 616.1h0M285.2 610.3h0M278.1 626.6h0M285.3 611.4h0M285 618h0M285.7 620.7h0M280.6 617.4h0M286.5 617.5h0M286 605.7h0M284.2 607.6h0M283.5 612.5h0M281.3 623.8h0M282.5 620.3h0M284.4 612.3h0M279.9 614.4h0M282.1 624.5h0M286.3 605.9h0M288.8 602.7h0M281 613.6h0M285.6 622.7h0M280.6 617.5h0M274.9 622.9h0M280.5 626.8h0M282.6 615.9h0M283.5 620.7h0M286.9 613.2h0M284.6 598.9h0M282.5 614.6h0M288.4 621h0M283.7 617.6h0M284.6 615.8h0M289.1 609.8h0M285.9 618.3h0M284.6 612.4h0M281.3 625.7h0M281.3 625h0M282.1 619.4h0M284.7 611.8h0M281.4 624.8h0M286.9 609.9h0M276.6 622.5h0M278.9 614.9h0M281.8 617.9h0M286.5 607.4h0M283.2 625.7h0M279.4 623.3h0M281.1 619.4h0M283 612.4h0M284.6 613.5h0M279.4 626.1h0M282.7 624.3h0M276.8 625.3h0M288.6 607.3h0M285.9 616.1h0M279.1 611.3h0M276.4 632h0M280.1 615h0M279.7 618.5h0M284.1 611h0M276.2 627.7h0M283.8 607.3h0M284.6 613.3h0M285.4 614.1h0M277.7 624.8h0M285 603.1h0M281.7 614.9h0M287.7 617.2h0M284 617.7h0M279.9 618.3h0M279.7 614.6h0M283.4 616.3h0M286.1 610.2h0M290 616.4h0M275.7 619.7h0M284 616.3h0M288 612h0M283.4 622.6h0M278 615.8h0M286.9 610.3h0M283.9 614.3h0M281.7 620.8h0M285.2 613.7h0M283.2 609.9h0M285.8 613.2h0M280.4 614.7h0M283.7 602.9h0M276.4 625.3h0M283.8 615.2h0M288.8 615.1h0M278.3 622.5h0M284 624.1h0M277.6 620.7h0M280.8 615.5h0M277.7 616h0M283.4 613.7h0M285.6 609.2h0M282.5 622.3h0M281.2 616.1h0M283.6 614.9h0M272.5 628.7h0M280.5 618.6h0M281.5 630.9h0M276.4 621.6h0M278.9 624h0M287.4 611.9h0M281.6 622.8h0M279.1 621.9h0M282.4 612.5h0M277.6 617.4h0M281 628.6h0M280.3 608.8h0M283.5 611.2h0M277.2 618.7h0M274.9 628.1h0M275.6 620.9h0M278.3 624h0M288.4 608.8h0M277.5 622h0M283.5 613.1h0M285.5 610.3h0M281.1 615.6h0M287.2 618.3h0M282.6 608.6h0M282.2 612.3h0M279.3 629.3h0M285 611.7h0M274.4 632.4h0M282.7 624.2h0M277.8 610.3h0M276.8 630.8h0M288.2 613.3h0M284.5 602.5h0M288.4 623.2h0M277.1 630.8h0M287.6 608.3h0M280.1 625.5h0M278 627h0M284.4 629h0M276.4 620.6h0M276.9 622h0M288.8 607h0M280.3 625.8h0M273.3 628.5h0M279.7 630.7h0M276.7 620.3h0M284.6 607.2h0M275.8 627.4h0M281 620.4h0M283 614h0M281.3 621.4h0M282.4 621.5h0M282.2 622.5h0M279.7 615.4h0M277.4 623.1h0M289.7 611.4h0M277.8 631.4h0M286.3 613.7h0M281.3 610.4h0M274.3 615.3h0M281.6 621.4h0M291.7 613.8h0M272.8 622.5h0M281.6 620.7h0M279.2 624.7h0M276.4 614.3h0M282.3 626.4h0M280.1 623.3h0M281.3 613.4h0M283 619.6h0M281.5 616.8h0M289.1 609.5h0M280.5 633.9h0M279 622.1h0M283.3 619.4h0M290.8 611.8h0M274.6 624h0M281.3 619.5h0M280.2 613.8h0M280.5 626.7h0M277 620.1h0M282.5 619.1h0M278.6 621.4h0M284.1 615.2h0M282.9 612.2h0M274.1 618.4h0M278.7 611.9h0M286.3 617.1h0M285.1 620.1h0M278.3 622.8h0M287.2 608.2h0M275.1 624.1h0M279.5 615.5h0M279.5 610.8h0M272.9 634.4h0M284.4 625h0M272.4 629.1h0M283.4 620.9h0M284.9 615h0M281.1 623.8h0M277 615.8h0M280.4 612.2h0M282.3 624.5h0M275.6 617.9h0M277.9 625h0M282.1 614.6h0M280.4 620h0M288.3 609.9h0M283.8 609.6h0M280.4 628.3h0M284.6 618.2h0M277.4 614.7h0M282.2 617.3h0M281.5 615.3h0M281 619.7h0M282.3 611h0M283.3 613.8h0M286.7 617.3h0M280.3 622h0M281.8 609.2h0M277.8 627.5h0M286.5 612.5h0M279 612.2h0M277.7 623h0M281.6 614.7h0M290.9 603.9h0M280.9 617.5h0M279.3 621.9h0M283.6 617.6h0M285.3 615.2h0M286 606.2h0M287 622.1h0M286.2 612.5h0M285 618h0M284.9 609.9h0M282.2 615h0M275.6 623.2h0M277.9 610.5h0M288.7 612.4h0M281.1 619.4h0M272.6 630.4h0M278.2 623.8h0M284.1 619h0M284.3 613.8h0M283.5 623h0M280.5 609.6h0M280.2 621.5h0M277 626.8h0M287.1 617.2h0M281.2 623.3h0M287.7 610.5h0M288.8 612.8h0M282.4 621.7h0M275.6 620.3h0M286.5 618.6h0M287.1 611.6h0M281.9 617.2h0M282.7 619.6h0M289.8 613.4h0M286.1 614.9h0M279.6 622.5h0M281.5 623.2h0M273 631.5h0M282.5 620.5h0M280.6 620.7h0M284.4 615.7h0M274.6 620.3h0M276.3 619.1h0M287.9 624.2h0M279.5 621.4h0M280.5 620.1h0M281.5 622.9h0M284.6 610.4h0M282.3 619.8h0M277.9 613.5h0M282.8 616.1h0M278.6 625.2h0M270.6 629.1h0M274 624h0M283.1 622h0M279.3 617.4h0M275.4 626.5h0M284.7 615h0M279.6 620.3h0M277.9 610.4h0M277.7 624.1h0M273 634.8h0M282.2 614.6h0M286.3 617.2h0M289.5 604.5h0M279.6 617h0M289.8 620h0M286.6 607.2h0M269.6 633.2h0M275.7 627.4h0M272.1 629.7h0M280.1 615.3h0M280.6 620.3h0M280.2 614h0M279.8 630.5h0M279.9 624h0M280 618.6h0M279.7 619.7h0M280.2 620.9h0M284.4 612.2h0M276.9 622.8h0M281.9 623.2h0M274.8 620.2h0M283.7 615.4h0M279.1 626.4h0M279 626.4h0M281.1 626.8h0M274 629h0M282.5 621.7h0M273.7 621.1h0M272.2 631.7h0M275.8 621.4h0M283.1 620.1h0M279.4 606.2h0M283.3 621.3h0M285.2 610.7h0M280 617.4h0M281.2 609h0M276.5 627h0M283.5 631.4h0M274 618h0M278.4 620.7h0M282.4 619.8h0M283.4 616.9h0M278.4 627.4h0M280.3 617.4h0M279.1 622.9h0M283.7 605h0M283.2 621.8h0M277.7 621.3h0M284.6 606.9h0M278.4 630.5h0M285.3 607.9h0M284.9 618h0M278.2 621.1h0M277.7 620.7h0M280.1 618.3h0M280.9 616.4h0M277.6 623.1h0M283.2 617h0M284 614.5h0M280.9 618.7h0M287.5 609.7h0M279.6 625.5h0M284 619.2h0M283.5 612.2h0M281.6 615.4h0M285.7 609.1h0M289.3 614.9h0M282.3 627.8h0M286.4 609.8h0M277.4 621.4h0M286.8 612.2h0M285.7 620.2h0M290.1 613.7h0M276.2 635.1h0M280.5 612.3h0M278.1 618.2h0M284.5 607.8h0M289.6 609.7h0M284.5 608.9h0M282.7 620h0M277.6 616.1h0M281.4 624.9h0M282.8 619.4h0M279.9 616.6h0M282.6 614.5h0M284.5 608.6h0M279.7 624.2h0M281.1 616.5h0M281.2 613h0M280.4 618.9h0M274.7 628.3h0M281.2 621.7h0M278.7 621.7h0M275.8 624.8h0M279.9 616h0M278.9 620.3h0M280.5 620h0M281.4 617.5h0M278.2 617.6h0M281.7 614.4h0M282.8 614.9h0M284.2 618h0M286.2 617.5h0M284.1 613.9h0M284 622.4h0M289.2 613.9h0M287 610.6h0M286.6 621.8h0M281.5 607.7h0M284.1 615.1h0M282.4 614.9h0M285.8 606.2h0M275.2 625.6h0M281.6 611.8h0M280.3 623h0M280 616.1h0M274.9 632.6h0M281.6 611.9h0M291.5 613.8h0M279 625.4h0M283.5 607h0M275 620.3h0M273.9 616.4h0M275.3 624.8h0M284.8 617h0M278.2 620.7h0M279 619.7h0M284.1 620h0M276.9 625.9h0M283 616.2h0M279.4 621h0M286.7 611.5h0M280.7 620h0M280.2 615.3h0M280.7 616.1h0M287.5 613.1h0M287.1 611.2h0M282.8 620.1h0M282.7 628.3h0M279.1 619.3h0M282.1 623.5h0M277.8 613.4h0M280.8 622.2h0M280.5 617.1h0M281.4 618.5h0M280.2 617.5h0M283.2 628.5h0M284.3 612.9h0M282.6 624.5h0M274.6 629.8h0M279.3 625.2h0M279.1 622h0M277.6 621.7h0M281.6 617.3h0M281 624.4h0M286.1 620.5h0M284.1 614.1h0M275 623.8h0M282.5 625.5h0M284.3 609.7h0M284.6 617.4h0M280.9 612.3h0M281.1 620.5h0M282.4 620h0M281.2 620.2h0M281.8 625.7h0M282.3 611h0M281.5 628.4h0M275.7 621.8h0M282.5 628.8h0M290.2 608.9h0M280.5 625.8h0M280.7 609.8h0M279.1 628.6h0M285.9 605.3h0M287.4 602.2h0M281.5 619.5h0M290.8 611.5h0M276.8 626.9h0M275.7 619.8h0M282.2 609.3h0M283.1 619h0M278 621.1h0M280.6 618h0M284.7 624.9h0M278.9 623.1h0M283.4 612.5h0M272 629.5h0M275.7 620.9h0M278.3 617.5h0M284.6 613.2h0M286.4 620h0M278 620.7h0M275 633.6h0M291.1 601.9h0M275.1 622.1h0M282.4 614h0M274.8 625.7h0M284.3 613.1h0M274.8 626.9h0M277.5 621.7h0M275.8 615.6h0M277.3 626.7h0M284.1 613.9h0M283.4 619.3h0M284.3 611.1h0M288.5 615.1h0M275.9 619.2h0M276.2 625.4h0M276.4 619h0M286.4 612.5h0M280.7 630.9h0M285.4 612h0M280.1 630.3h0M286.1 616.3h0M279.6 613.8h0M277.1 623.5h0M276.3 627.4h0M279.8 618h0M278.8 613.3h0M274 625.1h0M288.8 618.5h0M287 619.1h0M277.4 626.6h0M276.1 630.9h0M274.2 615.3h0M276 618.8h0M272.9 626.1h0M277.4 623.7h0M288.3 604.9h0M286.8 616h0M280.3 613.8h0M278.2 623.2h0M277.1 616.6h0M283.6 610.7h0M273.9 622.4h0M282.4 623.7h0M281.2 621.4h0M279.3 621.6h0M281.3 614.1h0M279.5 623.7h0M281.6 617.3h0M279.3 615.3h0M280 615.6h0M283.9 617.8h0M275.5 626.8h0M272.8 624.8h0M277.4 630.9h0M286.8 619.5h0M284 615.2h0M280.1 613.9h0M284.6 607.7h0M282.5 620.8h0M286.7 612.1h0M283 617.5h0M284.7 612.9h0M281.1 623.7h0M282.6 619.4h0M276.5 622.4h0M272 622.6h0M275.2 632.4h0M285.8 612.4h0M286.6 617.7h0M287.5 600.2h0M280.4 617h0M279.1 613.8h0M275.7 623.5h0M287.7 612.1h0M286.9 625.7h0M288.5 604.5h0M290.7 602.9h0M279 632.2h0M277.6 621.8h0" stroke="#6cf06c" stroke-width="2.0" stroke-opacity="0.55" stroke-linecap="round" fill="none"/>
<path d="M276.4 620.3h0M283.2 609.1h0M279.9 613.2h0M282.3 620h0M283.2 624.8h0M284.9 612.4h0M288.3 614.6h0M281.9 621.8h0M286 617.5h0M285 622.8h0M277.3 622.1h0M283.9 626.3h0M281.3 613h0M280.2 614.9h0M285.4 616.8h0M280.1 615.5h0M279.1 616.4h0M286.9 613.2h0M276.2 628.4h0M282.7 612.1h0M276.3 624.6h0M278.6 618.2h0M282.8 617.7h0M281.5 617.8h0M281.4 614.4h0M288.7 608.2h0M281.5 609.5h0M284.3 615.2h0M282 612.6h0M279.2 620h0M280.9 629.8h0M284.1 615.5h0M285.1 616.4h0M281.2 625.3h0M278.1 620.8h0M283.1 619.7h0M283.7 616.1h0M285.2 610.3h0M278.1 626.6h0M285.3 611.4h0M285 618h0M285.7 620.7h0M280.6 617.4h0M286.5 617.5h0M286 605.7h0M284.2 607.6h0M283.5 612.5h0M281.3 623.8h0M282.5 620.3h0M284.4 612.3h0M279.9 614.4h0M282.1 624.5h0M286.3 605.9h0M281 613.6h0M285.6 622.7h0M280.6 617.5h0M274.9 622.9h0M280.5 626.8h0M282.6 615.9h0M283.5 620.7h0M286.9 613.2h0M282.5 614.6h0M283.7 617.6h0M284.6 615.8h0M289.1 609.8h0M285.9 618.3h0M284.6 612.4h0M281.3 625.7h0M281.3 625h0M282.1 619.4h0M284.7 611.8h0M281.4 624.8h0M286.9 609.9h0M276.6 622.5h0M278.9 614.9h0M281.8 617.9h0M286.5 607.4h0M283.2 625.7h0M279.4 623.3h0M281.1 619.4h0M283 612.4h0M284.6 613.5h0M279.4 626.1h0M282.7 624.3h0M276.8 625.3h0M288.6 607.3h0M285.9 616.1h0M279.1 611.3h0M276.4 632h0M280.1 615h0M279.7 618.5h0M284.1 611h0M276.2 627.7h0M283.8 607.3h0M284.6 613.3h0M285.4 614.1h0M277.7 624.8h0M281.7 614.9h0M287.7 617.2h0M284 617.7h0M279.9 618.3h0M279.7 614.6h0M283.4 616.3h0M286.1 610.2h0M275.7 619.7h0M284 616.3h0M288 612h0M283.4 622.6h0M278 615.8h0M286.9 610.3h0M283.9 614.3h0M281.7 620.8h0M285.2 613.7h0M283.2 609.9h0M285.8 613.2h0M280.4 614.7h0M276.4 625.3h0M283.8 615.2h0M288.8 615.1h0M278.3 622.5h0M284 624.1h0M277.6 620.7h0M280.8 615.5h0M277.7 616h0M283.4 613.7h0M285.6 609.2h0M282.5 622.3h0M281.2 616.1h0M283.6 614.9h0M280.5 618.6h0M276.4 621.6h0M278.9 624h0M287.4 611.9h0M281.6 622.8h0M279.1 621.9h0M282.4 612.5h0M277.6 617.4h0M281 628.6h0M280.3 608.8h0M283.5 611.2h0M277.2 618.7h0M274.9 628.1h0M275.6 620.9h0M278.3 624h0M288.4 608.8h0M277.5 622h0M283.5 613.1h0M285.5 610.3h0M281.1 615.6h0M287.2 618.3h0M282.6 608.6h0M282.2 612.3h0M279.3 629.3h0M285 611.7h0M282.7 624.2h0M276.8 630.8h0M288.2 613.3h0M277.1 630.8h0M287.6 608.3h0M280.1 625.5h0M278 627h0M276.4 620.6h0M276.9 622h0M288.8 607h0M280.3 625.8h0M273.3 628.5h0M279.7 630.7h0M276.7 620.3h0M284.6 607.2h0M275.8 627.4h0M281 620.4h0M283 614h0M281.3 621.4h0M282.4 621.5h0M282.2 622.5h0M279.7 615.4h0M277.4 623.1h0M289.7 611.4h0M277.8 631.4h0M286.3 613.7h0M281.3 610.4h0M281.6 621.4h0M281.6 620.7h0M279.2 624.7h0M282.3 626.4h0M280.1 623.3h0M281.3 613.4h0M283 619.6h0M281.5 616.8h0M289.1 609.5h0M279 622.1h0M283.3 619.4h0M274.6 624h0M281.3 619.5h0M280.2 613.8h0M280.5 626.7h0M277 620.1h0M282.5 619.1h0M278.6 621.4h0M284.1 615.2h0M282.9 612.2h0M278.7 611.9h0M286.3 617.1h0M285.1 620.1h0M278.3 622.8h0M287.2 608.2h0M275.1 624.1h0M279.5 615.5h0M279.5 610.8h0M284.4 625h0M283.4 620.9h0M284.9 615h0M281.1 623.8h0M277 615.8h0M280.4 612.2h0M282.3 624.5h0M275.6 617.9h0M277.9 625h0M282.1 614.6h0M280.4 620h0M288.3 609.9h0M283.8 609.6h0M280.4 628.3h0M284.6 618.2h0M277.4 614.7h0M282.2 617.3h0M281.5 615.3h0M281 619.7h0M282.3 611h0M283.3 613.8h0M286.7 617.3h0M280.3 622h0M281.8 609.2h0M277.8 627.5h0M286.5 612.5h0M279 612.2h0M277.7 623h0M281.6 614.7h0M280.9 617.5h0M279.3 621.9h0M283.6 617.6h0M285.3 615.2h0M286 606.2h0M287 622.1h0M286.2 612.5h0M285 618h0M284.9 609.9h0M282.2 615h0M275.6 623.2h0M288.7 612.4h0M281.1 619.4h0M278.2 623.8h0M284.1 619h0M284.3 613.8h0M283.5 623h0M280.5 609.6h0M280.2 621.5h0M277 626.8h0M287.1 617.2h0M281.2 623.3h0M287.7 610.5h0M288.8 612.8h0M282.4 621.7h0M275.6 620.3h0M286.5 618.6h0M287.1 611.6h0M281.9 617.2h0M282.7 619.6h0M289.8 613.4h0M286.1 614.9h0M279.6 622.5h0M281.5 623.2h0M282.5 620.5h0M280.6 620.7h0M284.4 615.7h0M274.6 620.3h0M276.3 619.1h0M279.5 621.4h0M280.5 620.1h0M281.5 622.9h0M284.6 610.4h0M282.3 619.8h0M277.9 613.5h0M282.8 616.1h0M278.6 625.2h0M274 624h0M283.1 622h0M279.3 617.4h0M275.4 626.5h0M284.7 615h0M279.6 620.3h0M277.7 624.1h0M282.2 614.6h0M286.3 617.2h0M279.6 617h0M286.6 607.2h0M275.7 627.4h0M280.1 615.3h0M280.6 620.3h0M280.2 614h0M279.8 630.5h0M279.9 624h0M280 618.6h0M279.7 619.7h0M280.2 620.9h0M284.4 612.2h0M276.9 622.8h0M281.9 623.2h0M274.8 620.2h0M283.7 615.4h0M279.1 626.4h0M279 626.4h0M281.1 626.8h0M274 629h0M282.5 621.7h0M275.8 621.4h0M283.1 620.1h0M283.3 621.3h0M285.2 610.7h0M280 617.4h0M281.2 609h0M276.5 627h0M278.4 620.7h0M282.4 619.8h0M283.4 616.9h0M278.4 627.4h0M280.3 617.4h0M279.1 622.9h0M283.2 621.8h0M277.7 621.3h0M284.6 606.9h0M278.4 630.5h0M285.3 607.9h0M284.9 618h0M278.2 621.1h0M277.7 620.7h0M280.1 618.3h0M280.9 616.4h0M277.6 623.1h0M283.2 617h0M284 614.5h0M280.9 618.7h0M287.5 609.7h0M279.6 625.5h0M284 619.2h0M283.5 612.2h0M281.6 615.4h0M285.7 609.1h0M289.3 614.9h0M282.3 627.8h0M286.4 609.8h0M277.4 621.4h0M286.8 612.2h0M285.7 620.2h0M290.1 613.7h0M280.5 612.3h0M278.1 618.2h0M284.5 607.8h0M289.6 609.7h0M284.5 608.9h0M282.7 620h0M277.6 616.1h0M281.4 624.9h0M282.8 619.4h0M279.9 616.6h0M282.6 614.5h0M284.5 608.6h0M279.7 624.2h0M281.1 616.5h0M281.2 613h0M280.4 618.9h0M274.7 628.3h0M281.2 621.7h0M278.7 621.7h0M275.8 624.8h0M279.9 616h0M278.9 620.3h0M280.5 620h0M281.4 617.5h0M278.2 617.6h0M281.7 614.4h0M282.8 614.9h0M284.2 618h0M286.2 617.5h0M284.1 613.9h0M284 622.4h0M289.2 613.9h0M287 610.6h0M286.6 621.8h0M281.5 607.7h0M284.1 615.1h0M282.4 614.9h0M285.8 606.2h0M275.2 625.6h0M281.6 611.8h0M280.3 623h0M280 616.1h0M281.6 611.9h0M279 625.4h0M283.5 607h0M275 620.3h0M275.3 624.8h0M284.8 617h0M278.2 620.7h0M279 619.7h0M284.1 620h0M276.9 625.9h0M283 616.2h0M279.4 621h0M286.7 611.5h0M280.7 620h0M280.2 615.3h0M280.7 616.1h0M287.5 613.1h0M287.1 611.2h0M282.8 620.1h0M282.7 628.3h0M279.1 619.3h0M282.1 623.5h0M277.8 613.4h0M280.8 622.2h0M280.5 617.1h0M281.4 618.5h0M280.2 617.5h0M284.3 612.9h0M282.6 624.5h0M274.6 629.8h0M279.3 625.2h0M279.1 622h0M277.6 621.7h0M281.6 617.3h0M281 624.4h0M286.1 620.5h0M284.1 614.1h0M275 623.8h0M282.5 625.5h0M284.3 609.7h0M284.6 617.4h0M280.9 612.3h0M281.1 620.5h0M282.4 620h0M281.2 620.2h0M281.8 625.7h0M282.3 611h0M281.5 628.4h0M275.7 621.8h0M282.5 628.8h0M290.2 608.9h0M280.5 625.8h0M280.7 609.8h0M279.1 628.6h0M285.9 605.3h0M281.5 619.5h0M276.8 626.9h0M275.7 619.8h0M282.2 609.3h0M283.1 619h0M278 621.1h0M280.6 618h0M284.7 624.9h0M278.9 623.1h0M283.4 612.5h0M275.7 620.9h0M278.3 617.5h0M284.6 613.2h0M286.4 620h0M278 620.7h0M275.1 622.1h0M282.4 614h0M274.8 625.7h0M284.3 613.1h0M274.8 626.9h0M277.5 621.7h0M275.8 615.6h0M277.3 626.7h0M284.1 613.9h0M283.4 619.3h0M284.3 611.1h0M288.5 615.1h0M275.9 619.2h0M276.2 625.4h0M276.4 619h0M286.4 612.5h0M285.4 612h0M280.1 630.3h0M286.1 616.3h0M279.6 613.8h0M277.1 623.5h0M276.3 627.4h0M279.8 618h0M278.8 613.3h0M274 625.1h0M287 619.1h0M277.4 626.6h0M276.1 630.9h0M276 618.8h0M277.4 623.7h0M288.3 604.9h0M286.8 616h0M280.3 613.8h0M278.2 623.2h0M277.1 616.6h0M283.6 610.7h0M273.9 622.4h0M282.4 623.7h0M281.2 621.4h0M279.3 621.6h0M281.3 614.1h0M279.5 623.7h0M281.6 617.3h0M279.3 615.3h0M280 615.6h0M283.9 617.8h0M275.5 626.8h0M277.4 630.9h0M286.8 619.5h0M284 615.2h0M280.1 613.9h0M284.6 607.7h0M282.5 620.8h0M286.7 612.1h0M283 617.5h0M284.7 612.9h0M281.1 623.7h0M282.6 619.4h0M276.5 622.4h0M285.8 612.4h0M286.6 617.7h0M280.4 617h0M279.1 613.8h0M275.7 623.5h0M287.7 612.1h0M277.6 621.8h0" stroke="#12ee12" stroke-width="2.9" stroke-opacity="1" stroke-linecap="round" fill="none"/>
<rect x="150.3" y="543.2" width="189.3" height="148.3" fill="none" stroke="#000" stroke-width="1.3"/>
<path d="M197.6 691.5v-2.6 M197.6 543.2v2.6 M245 691.5v-2.6 M245 543.2v2.6 M292.3 691.5v-2.6 M292.3 543.2v2.6 M150.3 654.4h2.6 M339.6 654.4h-2.6 M150.3 617.4h2.6 M339.6 617.4h-2.6 M150.3 580.3h2.6 M339.6 580.3h-2.6" stroke="#000" stroke-width="1" fill="none"/>
<text x="148.3" y="546.8" font-size="10" fill="#000" text-anchor="end">10</text>
<text x="148.3" y="583.9" font-size="10" fill="#000" text-anchor="end">5</text>
<text x="148.3" y="621" font-size="10" fill="#000" text-anchor="end">0</text>
<text x="148.3" y="658" font-size="10" fill="#000" text-anchor="end">-5</text>
<text x="148.3" y="695.1" font-size="10" fill="#000" text-anchor="end">-10</text>
<text x="149.1" y="703.6" font-size="10" fill="#000" text-anchor="middle">-20</text>
<text x="196.4" y="703.6" font-size="10" fill="#000" text-anchor="middle">-10</text>
<text x="245" y="703.6" font-size="10" fill="#000" text-anchor="middle">0</text>
<text x="292.3" y="703.6" font-size="10" fill="#000" text-anchor="middle">10</text>
<text x="339.6" y="703.6" font-size="10" fill="#000" text-anchor="middle">20</text>
<text x="119.2" y="617.6" font-size="17.4" fill="#000" text-anchor="middle" transform="rotate(-90 119.2 617.6)">MDS Dimension 2</text>
<text x="243.8" y="726.3" font-size="17.35" fill="#000" text-anchor="middle">MDS Dimension 1</text>
<path d="M594.1 665.5h0M537.6 639.4h0M547.9 653.4h0M556.2 574.8h0M543.4 647.1h0M546.9 649.6h0M556.9 573h0M592.6 664.3h0M541.6 586.7h0M534.1 629.4h0M544.3 649.4h0M597.2 572.4h0M618.6 642.1h0M586.2 668.9h0M625.3 626.4h0M547.6 652.3h0M556.3 659.4h0M550.3 580h0M626 607.1h0M534.6 612.8h0M625.3 599h0M562.6 663.4h0M611.1 579.6h0M549.3 654.8h0M551.2 579.5h0M536.6 597.3h0M550.3 580.3h0M582.6 566h0M558.3 663.2h0M537.3 595.3h0M625.9 625.4h0M580.1 665.2h0M610.1 578.1h0M601 664.3h0M577.2 665.8h0M551.7 656.9h0M628.4 629h0M615.3 648.7h0M596.3 569h0M549 657.3h0M598.8 662.8h0M625.2 605h0M588.6 664.2h0M581.1 566.8h0M542.3 588.6h0M558.5 571.2h0M540.1 587.9h0M572.5 567.3h0M549.8 578.9h0M586 567.7h0M617.4 584.9h0M628.6 602h0M574.3 569.6h0M532.6 628.7h0M533.8 622.6h0M542.1 648.1h0M598.6 660.8h0M545.3 581.1h0M581.6 665.5h0M617.1 648.2h0M536.8 604.1h0M627.7 618.4h0M543.5 588.1h0M627 607.1h0M552.9 660.4h0M625 635.6h0M535.8 611.7h0M622 631.6h0M584.6 568.2h0M624.3 604.4h0M591.8 666.4h0M580.2 666.3h0M614.9 582.3h0M558.1 571.1h0M579.3 668.2h0M626.6 628.2h0M538.8 595.8h0M604.7 662.4h0M548.3 580.5h0M627.1 630.8h0M564.6 570.3h0M562 569.6h0M625.4 600.3h0M533.4 620.7h0M569.4 567.3h0M613.8 581.7h0M539.5 645.2h0M560 663.8h0M538.5 639.1h0M619.4 648.7h0M536.3 638.8h0M557.9 571.2h0M627.6 624.3h0M602.3 662h0M533.2 626.4h0M542.8 650.4h0M554.6 578.2h0M553.1 656.9h0M610.3 656.1h0M596.7 664.6h0M535.3 597.8h0M616.9 651.1h0M580.6 569.7h0M540.5 643.8h0M561 569.4h0M610.1 582.4h0M613.4 654.7h0M584.3 665.6h0M538.9 640.7h0M591.9 568.4h0M531.2 623.8h0M569 666h0M544.5 653.5h0M551.1 657.9h0M540.3 644.8h0M606.2 661.7h0M553.1 573.8h0M599 571h0M563.7 660.2h0M544.1 652h0M623.7 607.6h0M569.1 571.8h0M602.6 659.7h0M534.2 616.1h0M531.5 608.7h0M557.4 571.6h0M584.2 668h0M607.1 659.4h0M613.1 584.8h0M553.2 579.3h0M532.6 621.8h0M627.8 605.3h0M547.5 581.6h0M605.3 658.1h0M547.4 653.2h0M617.9 586.3h0M534.1 605.6h0M556.4 658.8h0M534.2 628.3h0M603.7 572.6h0M532.7 606.5h0M623.5 627.9h0M558.3 660.7h0M616 651.3h0M585.8 667.9h0M536.7 631.5h0M545.4 647.2h0M549.4 651.9h0M534.6 623.2h0M619.8 642.1h0M626 619.7h0M567.8 569.7h0M628 628.6h0M621.5 640.3h0M597.7 661.7h0M612.7 657h0M615.1 585.4h0M625.9 627.3h0M619.1 646h0M569 569.1h0M605.4 660.4h0M570.1 571.2h0M614.9 650.9h0M598.1 662h0M610.9 582.2h0M530.8 609.8h0M602 573.1h0M533.4 606.4h0M627.7 624h0M610.5 654.5h0M536.4 634.4h0M628 635.6h0M628.2 618.7h0M576.5 666.8h0M621.7 591.1h0M613.6 582.2h0M594.9 664.1h0M559.4 659.3h0M536 594.4h0M545.8 650.7h0M558.6 661.9h0M627.8 628.9h0M624.4 600.2h0M598.1 661.7h0M579.3 666.8h0M542.4 646.7h0M578 667.9h0M535.2 614h0M551.2 582h0M538.5 639.9h0M537.3 597.9h0M583.4 568h0M618.5 643.5h0M548.6 652.5h0M547 656.3h0M546.5 651.8h0M624.4 602h0M573.8 567.8h0M557.2 573.4h0M557 657.6h0M539.1 641.5h0M622.1 643.2h0M617.5 644.4h0M622.1 601.3h0M626.5 629.2h0M534.7 634.5h0M599.7 666.1h0M573.4 566.4h0M620.5 584.8h0M534.6 626.3h0M627 604.1h0M536.6 629.8h0M583.6 666.6h0M531 612.4h0M588.3 666h0M543.3 647.4h0M562.2 570.1h0M537.5 636.4h0M532.9 622.2h0M568.8 666.3h0M537 603h0M530.9 615.8h0M615.6 653.4h0M623.9 638.8h0M621.9 591.8h0M628 615.3h0M565.6 570.4h0M534.4 630h0M549.9 575.8h0M581.2 668.4h0M598.8 664.3h0M623.7 601.9h0M628.9 625.6h0M569.2 666.1h0M609.3 581.7h0M599.6 659.4h0M536.1 600h0M626.2 605.6h0M540 594.1h0M556.3 662.8h0M592 665.2h0M536 596.7h0M562.1 573.4h0M599.9 570.9h0M583.2 566.2h0M574.9 569.5h0M585.4 668.7h0M583 666.4h0M627 603.5h0M579 667.8h0M626.2 613.1h0M613.9 578.9h0M624.2 609.9h0M549.8 577.9h0M543.7 586.9h0M542.2 589.1h0M591.4 663.4h0M622.3 594.1h0M608.9 573.1h0M617 581.2h0M536.8 637.8h0M616.8 590.2h0M560.7 660.8h0M568.7 663.5h0M535.7 614.7h0M556.8 574.4h0M599.7 573.3h0M559.7 661.4h0M565.3 568.7h0M536.3 639.4h0M586.7 570.8h0M572.2 569.7h0M605.5 660.1h0M580 669.5h0M536.1 639.1h0M598.1 569.6h0M531.4 616.1h0M627.6 635.8h0M566.4 569.6h0M628 606.8h0M581.8 568.2h0M540 594.8h0M618.3 589h0M568.9 568.4h0M539.6 596h0M578.5 666.6h0M551.1 580.4h0M533.6 612.5h0M582 565.6h0M573.2 665.6h0M537.9 601.6h0M575.3 668.5h0M568.2 665.1h0M558.5 661.8h0M541.9 591.6h0M610.5 658.2h0M619.6 641.8h0M625.6 608.2h0M559.3 663.4h0M623.1 635.2h0M605.7 577.2h0M628.9 619.3h0M569.3 571.2h0M540.7 588.6h0M548.1 577.7h0M575.7 567.3h0M609.1 575.9h0M566.5 664.2h0M615.2 654.4h0M598.1 663.6h0M587.9 664.2h0M611.5 576.8h0M593.9 665.7h0M629.4 608.9h0M585.9 663.4h0M626.9 621.6h0M629.1 609.2h0M555.4 577.1h0M624.5 604.4h0M549.7 581.4h0M560.4 663.2h0M626.9 606.6h0M545.8 651.3h0M560.1 577.2h0M534.1 626.2h0M557.2 573.2h0M573.4 665.8h0M546.4 652.4h0M582.6 667.1h0M549.3 653.7h0M584.9 569h0M563.9 662.8h0M531.6 625.4h0M538.7 643.4h0M625.3 636h0M620.9 594.7h0M535.8 605.1h0M556.7 574.5h0M556.7 575.7h0M588.2 663.7h0M565.1 662.3h0M626.2 626.7h0M586 567.9h0M533 622.1h0M571 664h0M533.8 629.8h0M536.2 624.2h0M532.9 623.1h0M625 635h0M533.8 624.9h0M626.6 612.9h0M595.6 663.6h0M536.1 634.8h0M610.2 578.2h0M540.5 591.6h0M614.3 650.7h0M603.1 576.6h0M532.9 615.7h0M598.7 664.9h0M589.8 667.6h0M547.6 654.2h0M559.4 571.8h0M626.2 601.2h0M539 644.4h0M534.6 632.7h0M590.9 664.4h0M533.8 605.2h0M546 653.9h0M554.2 578.7h0M626.8 608.4h0M626.2 601.5h0M598.7 663.8h0M533.8 629.5h0M538.3 594.7h0M624.9 601.3h0M549.7 577.5h0M584.1 667.2h0M619.1 647.4h0M613.3 583.4h0M536.5 595.3h0M545.5 652.4h0M624.8 629.1h0M614.2 650.2h0M617.3 647.4h0M625.4 602.9h0M628.8 613.4h0M534.6 595.3h0M628.6 627.3h0M534.8 611.1h0M553.3 577.3h0M543.4 588.1h0M535.8 603.3h0M585.3 665.5h0M578.6 568.3h0M544.2 586.6h0M550.5 579h0M541.1 589.8h0M530.2 620.9h0M595.7 664.3h0M605.9 661.3h0M531.5 632.5h0M560.8 574.1h0M628.2 608.6h0M627.8 612.9h0M579.2 566.4h0M542.8 591.7h0M559.1 660.2h0M628 613.7h0M536.3 608.2h0M536.9 639.1h0M534.9 640.7h0M593.4 569.7h0M555.1 573.2h0M592.1 664h0M595.5 665.2h0M532.7 629.6h0M611.3 656.3h0M550.5 656.6h0M535.8 601.6h0M581.2 566.9h0M580.2 571.3h0M561.5 661.7h0M590.9 568.3h0M606.9 575.6h0M531.2 615.8h0M553.1 656.7h0M626.4 638.7h0M535.4 596.7h0M599.3 570.9h0M625.8 628h0M559.5 574.4h0M556.1 573.6h0M573.1 664.1h0M537.3 596.9h0M607.4 576.4h0M620.2 645.1h0M596 663.7h0M597.4 665.4h0M549.2 582.1h0M628.7 632.2h0M605.9 661.8h0M563.7 568.8h0M537.1 633.6h0M627.9 625.2h0M556.5 572.7h0M626.5 602.3h0M536 634.7h0M609.5 655.9h0M572.6 664.5h0M540.1 592.6h0M540.4 647h0M551.1 576.8h0M554 657.7h0M551.4 581h0M552.1 579.1h0M588 665.2h0M596.2 662.6h0M544.4 657h0M545.2 581.3h0M540.7 589.2h0M621.6 592.7h0M609.3 656.9h0M609.3 657.2h0M628.5 622.5h0M553.6 578.6h0M570 668.3h0M605 656.6h0M544.5 585.8h0M531.8 615.1h0M605.7 577h0M575.1 570.9h0M564.2 661.8h0M566.7 570.6h0M627.9 615.4h0M609.2 660.9h0M608.6 658.7h0M628.2 604.9h0M534.7 601.1h0M622.4 595.7h0M576.9 667.8h0M582.9 566.3h0M582.5 666.4h0M534.3 601.6h0M594.3 666.4h0M544.6 643.6h0M542.9 645.2h0M602.1 661.1h0M566.6 573.9h0M628.1 616.6h0M596.4 568.5h0M584.1 665.9h0M615 647.9h0M541.4 644.3h0M621.2 647.3h0M553.9 577h0M592.4 570h0M610.8 655.7h0M626.8 632.9h0M605.2 658.3h0M534.1 626.5h0M577.7 667.9h0M576.7 567.2h0M546.5 579.7h0M551.1 654.7h0M560.8 664.7h0M568.1 566h0M555.5 572.1h0M533.4 623.3h0M534.1 633.5h0M567.9 668.4h0M626.1 623.3h0M627.6 612.3h0M539.7 593.4h0M555.7 573.8h0M628.3 614.8h0M533.1 625.1h0M551.1 577.5h0M624.9 637.9h0M625.2 598.9h0M551.5 579.1h0M571.6 667.7h0M623.9 591.1h0M589 666h0M581.4 568.1h0M555.2 572.6h0M533.5 617.9h0M607.2 660.3h0M577.9 666.1h0M622.9 638.7h0M592.9 664.9h0M533.6 623.4h0M544.3 647.9h0M584 571.1h0M537.8 590.4h0M610.3 659.5h0M587.4 567.5h0M572.7 570.5h0M570.9 667.9h0M543.7 649.9h0M589.1 565.8h0M611.5 579.8h0M619.5 588.2h0M628.4 619.1h0M625.3 606.3h0M588.4 568.9h0M625.1 604.1h0M546.5 583.2h0M550 581h0M572.9 665.4h0M623.5 642.1h0M623.1 594.3h0M598.3 572.2h0M625.9 634.9h0M571.8 667.8h0M534 612.7h0M545.6 585.9h0M581.5 664.1h0M617.9 585.7h0M535.4 600.4h0M607.9 580.8h0M543.2 584h0M530.5 613.2h0M532.5 625.8h0M539.3 586.7h0M607.3 657.9h0M580 664.5h0M557.3 661.4h0M627.2 612.7h0M600.8 662.2h0M619.5 644.9h0M586.4 572h0M614.8 649.3h0M626.9 611.9h0M616.2 650h0M580.2 566.5h0M608.8 659.4h0M626.9 630.4h0M595.1 664.8h0M624.2 598.9h0M535.2 608.3h0M536.8 598.3h0M539.1 592.7h0M614.3 650.6h0M534.3 614.5h0M558.9 662.2h0M624.4 598.6h0M565.9 567.7h0M538.7 595h0M563.2 661.8h0M624.9 602.5h0M622.9 589.7h0M569.6 568.8h0M622 596.8h0M592.9 665.9h0M626 624.3h0M582 665.8h0M622 594.1h0M608 658.4h0M577.2 664.8h0M624.7 639.5h0" stroke="#3ad83a" stroke-width="3.0" stroke-opacity="0.75" stroke-linecap="round" fill="none"/>
<path d="M628.5 608.7h0M627.3 627.3h0M612.4 580.5h0M560.1 572h0M624.9 634.4h0M604.3 658.3h0M619.5 642.3h0M535.3 633.1h0M536.7 600.1h0M540 641.8h0M622 591.8h0M623.3 637.8h0M627.9 622.7h0M620 637.5h0M626.4 606.3h0M532.9 607.7h0M608 658h0M627.6 625.5h0M577.2 666.7h0M556.4 660.3h0M600.5 663.3h0M534.1 616.3h0M580.7 667h0M533.8 627h0M566.5 664.9h0M535.9 595.8h0M534.3 610.6h0M535.4 605.3h0M598 569.2h0M621.4 593.8h0M627.8 623h0M585.2 665.7h0M591.8 664.7h0M554.6 660h0M543.3 586.7h0M586.8 567.4h0M595.7 663.6h0M626.9 599.8h0M618.9 587.9h0M556.3 660.6h0M562.3 572.2h0M564.9 663.5h0M546.6 654.7h0M543.7 649.1h0M612.1 580.4h0M546.4 653.4h0M616 584.6h0M542.5 586.1h0M542.1 589.2h0M534.6 604.1h0M536.1 598.3h0M564.7 663.4h0M593.1 570.2h0M556 572.8h0M574.1 566.9h0M622.9 598.3h0M531.4 624.1h0M535.1 602.6h0M615.9 649.9h0M619.6 591.4h0M605.3 660.2h0M613.4 654.4h0M582.5 666.7h0M624.7 637.1h0M536.1 604.6h0M587.8 568.1h0M624.3 599.4h0M627.2 624.6h0M580.3 667.4h0M538.6 592.1h0M539 641.6h0M621.1 589.3h0M600.9 572.1h0M593.7 568h0M577.2 567.7h0M534.3 600.7h0M621.2 640.5h0M546.6 653h0M596.7 663.5h0M601 661.2h0M612 649.9h0M583.1 569.9h0M615.4 652.5h0M600.3 573h0M556.5 661.1h0M603.3 662h0M590.8 569.3h0M537.3 636.9h0M533.3 615.3h0M543.5 585.5h0M535.5 631.5h0M628.4 618.7h0M618.2 588.8h0M534.9 637.6h0M532.5 619.8h0M535.9 604.2h0M601.4 662.1h0M589.8 666.4h0M542.4 647.3h0M541.3 642.4h0M604.4 574.7h0M624.7 637.3h0M580.3 668.4h0M546.1 652.4h0M629.8 618h0M610 579.5h0M594.6 569.7h0M575.7 667.2h0M604.7 572.2h0M542.8 588.3h0M544 647.8h0M624.8 598.9h0M561.8 663.1h0M626.1 604.9h0M547.4 582.8h0M557.9 573.9h0M627.9 612h0M595.1 572.3h0M620.3 643h0M533.7 633.8h0M534 603.9h0M536.5 633.3h0M551.1 657.5h0M597.5 572.7h0M619.4 644.6h0M580.7 567.8h0M563.1 572.3h0M568.9 665.8h0M544.1 586.3h0M615.2 582.8h0M626.6 623h0M621.3 593.1h0M620.5 647.5h0M573 665.1h0M564.4 572.2h0M607.7 658.1h0M537.8 637.4h0M627.2 629.4h0M540.3 644.7h0M544.5 649.9h0M543.8 585.8h0M621 643.6h0M535.5 629.1h0M536 599.6h0M555.2 574h0M564.1 570.6h0M584.6 667.1h0M540.7 646.1h0M623 598.6h0M559.8 572.5h0M575.1 665.2h0M615.1 582.9h0M619.5 643.8h0M570.6 665.7h0M589.2 569.8h0M627.8 623.9h0M540.3 645.8h0M550.2 578.7h0M628.4 621h0M627.4 619.9h0M624.5 629.7h0M582.3 566.3h0M554.6 574.1h0M601.7 572.7h0M615.2 648.3h0M552.8 656.9h0M612.8 581h0M626 597.8h0M590.5 570.4h0M536 605.8h0M597.2 572h0M618.6 647.3h0M533.3 618.7h0M622.7 636.4h0M615.1 584.8h0M594.1 665.5h0M606.7 660h0M547.2 652.8h0M618.3 649h0M584.7 665.7h0M622.2 638h0M584.5 665.3h0M537 638.8h0M622.3 598.1h0M550 579.9h0M535.6 598.7h0M625.2 599h0M537.9 595.5h0M567.8 568.6h0M554.8 576.5h0M625.2 596.8h0M545.6 650.6h0M555.4 574.1h0M537.7 641.8h0M618.9 587.4h0M617 647.8h0M554.8 575.6h0M600.7 661.1h0M616.2 585.4h0M588.3 666.3h0M615.8 650.4h0M532.5 619.6h0M593.3 569.9h0M585.4 666.8h0M620.6 592.9h0M590.8 568.7h0M615.2 584.2h0M577.7 666.1h0M534.6 607.7h0M565.3 572.2h0M593.9 664.6h0M626.7 629.5h0M564.7 664.4h0M536.9 637.7h0M627 616.9h0M533.5 602.2h0M539.2 591.6h0M561.3 661.5h0M550.2 577.7h0M539.7 590.9h0M626 605.8h0M623.4 599.3h0M578.7 569.3h0M538.6 591.2h0M533 616.3h0M568 666.1h0M620.8 643.6h0M621.3 645.2h0M559.3 660h0M578.5 667.2h0M610.6 653.7h0M552.1 656h0M536.9 640.5h0M542.7 644.5h0M533.6 605.3h0M562.6 663.5h0M622.2 638.3h0M580.3 567.8h0M558 574.4h0M581.3 667.2h0M557 659.7h0M626.9 609.7h0M552.9 657.7h0M624.2 634.7h0M616.1 651h0M595.6 570.5h0M626.8 604h0M570 664.8h0M538 640.4h0M629.5 610.9h0M616.6 584.8h0M539.8 592h0M543.8 586.8h0M550.2 654.2h0M537.9 639.7h0M624.1 633.8h0M553.1 656.6h0M582.6 667.2h0M589.2 666.1h0M533.2 624.7h0M630.5 609.3h0M535.6 600.4h0M585 665.8h0M617.8 648.5h0M590.8 665.3h0M540.3 592.2h0M602.8 661h0M625.6 627.2h0M534.3 623.8h0M539.3 638.5h0M566.6 569.6h0M565 569.9h0M539.8 643.3h0M628.4 609h0M571.3 664.6h0M596.1 569.8h0M586.8 668.7h0M604.6 576.9h0M608.7 656.2h0M532.9 615.3h0M552.3 657.2h0M536.6 599.4h0M591.5 666.9h0M611.3 579.4h0M612.8 580.3h0M602.5 572.8h0M542.4 588.6h0M617.6 591.2h0M580.8 568.6h0M594.1 664.2h0M610.3 577.6h0M617.1 647.9h0M617 651h0M573.4 666.1h0M562.4 571.5h0M532.7 615.9h0M609.3 658.3h0M622 639.8h0M564.3 665.9h0M566.9 570.6h0M566.3 662.7h0M619.3 645.9h0M573.7 567.5h0M601.7 660.8h0M552.8 657.8h0M570.5 665.2h0M585.4 666.7h0M617 584.3h0M545.5 584h0M628.4 610.3h0M533.8 608.5h0M605.5 660.2h0M548.1 653.9h0M543 589.9h0M547.6 650.4h0M534.3 626.9h0M622.5 599.7h0M533.3 620.3h0M581.5 666.1h0M533.2 607.5h0M539.3 643.2h0M545.1 648.2h0M565.2 662.8h0M581.4 665.3h0M624.9 632.1h0M611.3 581.3h0M541.2 588.7h0M593.3 664.5h0M537.2 638.3h0M627 627.4h0M547 653.3h0M538.6 642.4h0M537.2 599.7h0M534.6 616.4h0M609.4 655.6h0M625.4 637h0M573 666h0M627.5 620.1h0M628.8 617.3h0M560.2 660.2h0M607.2 574.8h0M545.6 585.9h0M627.8 613.5h0M581.9 666.5h0M598.9 661.4h0M550 579.4h0M560.1 573.8h0M536.7 598.3h0M570.5 666.6h0M589.8 664.8h0M532.1 625.2h0M554.6 658.8h0M583.4 667.4h0M539.7 590.9h0M545.4 584.4h0M625.2 598.2h0M609.9 577.1h0M536.8 634.8h0M532.1 614h0M532.7 623.4h0M545.8 651.6h0M558.8 571.4h0M557.4 659.7h0M586.3 666.8h0M562.9 662.4h0M533.8 625.1h0M578.8 668.4h0M550.1 580.7h0M541.6 646.2h0M582 667.6h0M605.8 660.6h0M595.8 569.6h0M624.7 600.9h0M619.2 588.2h0M563.3 665.9h0M598.6 571.4h0M619.3 591.5h0M571.6 665.6h0M628 607.7h0M534.8 607h0M627.3 614.8h0M546.6 582h0M539.9 642.4h0M549.4 654.1h0M613.2 582.5h0M628.2 614.6h0M534 605.5h0M564.7 568.9h0M575.8 567.8h0M626.2 612.4h0M576.8 666h0M628.4 607.7h0M534.1 628.5h0M614.9 650.9h0M621.9 642.1h0M627.3 609.7h0M621.9 592.9h0M597.2 664.3h0M540.5 593.8h0M623.1 642.4h0M603.6 661.5h0M561.8 573.3h0M612.9 653.5h0M628.4 612.2h0M551.7 580.2h0M553 575.2h0M533.4 616.2h0M534.6 632.8h0M608.4 658.1h0M623.7 601.2h0M536.5 629.3h0M600.7 662.5h0M534.8 621.5h0M614.4 654.2h0M615.5 651.2h0M563.7 571.1h0M614.4 652h0M594.6 569.3h0M593.2 665.5h0M568 569.4h0M602.3 661.7h0M620.5 643.4h0M585.8 665.8h0M627.4 612.9h0M624.7 605.1h0M627.7 618.7h0M541.7 588.2h0M570.2 568.9h0M536.5 603.4h0M614.7 582.7h0M564.2 662.1h0M583.6 665.6h0M621.4 641.9h0M548.7 580.1h0M609.9 576.4h0M555 572.9h0M569.4 568.4h0M546.8 582.4h0M615.2 653h0M621.5 642.5h0M562.7 571.7h0M629.1 614.3h0M628.6 618.7h0M617.8 646.5h0M587.6 665.6h0M568.4 569.8h0M538.7 641.8h0M571.3 568.3h0M612.2 652.5h0M554 659.7h0M602.9 572.4h0M546 583.1h0M618.7 589.8h0M533.7 609.1h0M551.2 656.4h0M616.1 649.2h0M625.1 606h0M563.3 571.6h0M560.9 661.9h0M539 595.5h0M549.7 579.8h0M583.5 567.6h0M563 572.5h0M597.7 571.6h0M611.2 654.5h0M622.3 638.4h0M626.4 609.7h0M573.9 665.1h0M584.8 666.5h0M560.4 664.8h0M595.8 665h0M625.9 637.6h0M615.6 582.9h0M569.5 665h0M532.1 620.8h0M536 602.9h0M626.9 622h0M532 607.3h0M589.2 666.3h0M555.5 658.4h0M618.3 644.5h0M536.4 631.4h0M627.3 605.6h0M563.3 663.2h0M560.7 662.1h0M580.4 569h0M554.8 658h0M619.9 589.7h0M627.2 621.1h0M535.3 630.5h0M537.4 640.1h0M568.1 666.6h0M625.3 598.6h0M551.3 577.1h0M541.4 648.1h0M596.6 571.7h0M567.4 663.5h0M580.5 566.8h0M597.6 568.8h0M628.2 610.9h0M614.6 582.9h0M587.2 665h0M591.8 567.9h0M595.2 663.3h0M624.7 638.3h0M626.6 628.7h0M571.5 569.5h0M626.1 631.3h0M558.7 660.4h0M624.6 598.8h0M628 613.2h0M628.4 620.9h0M628.1 624.7h0M560.4 572.5h0M598.7 663.6h0M535.6 605.2h0M586.8 569.4h0M591.1 664.8h0M622.9 598.1h0M598.8 663.3h0M534.1 632.1h0M576 667.2h0M547.2 651h0M619.8 646h0M547.2 651.8h0M576.6 666.8h0M534.2 633.6h0M601.3 660h0M622.2 639.9h0M541.2 591.5h0M607.5 656.2h0M623.4 602h0M624.9 636.5h0M627 626.7h0M551.9 578.3h0M540.4 590.5h0M600.9 661.9h0M612.9 581.4h0M552.3 658.3h0M628.5 618.9h0M575.1 667.7h0M584.6 667.4h0M585.7 666.8h0M532.4 619.3h0M577.4 666.6h0M576.3 666.6h0M625.3 602.8h0M570.5 666.4h0M596.2 568.9h0M625.5 630.6h0M532.3 622.4h0M556.9 662h0M554.2 575.5h0M552.8 657.2h0M542.6 648.7h0M590.8 568.9h0M618.3 649.7h0M594.3 570.8h0M622.2 592.2h0M575.9 667.7h0M622.4 592h0M620 641.6h0M557.2 659.8h0M617.5 586.4h0M627.1 619.1h0M626.5 598.7h0M550.9 579.3h0M611.4 579.1h0M621.1 595.8h0M535 621.6h0M595 665.2h0M573.7 567.8h0M544 649.1h0M608.4 656.8h0M628.2 621h0M619.1 645.8h0M567.5 663.2h0M533.6 619.1h0M568.4 664.5h0M602.8 573.4h0M533.8 613.6h0M589.8 664.9h0M579.3 568.1h0M626.2 605.1h0M534.3 622.7h0M533.2 621.8h0M585.9 570.3h0M622 638.4h0M568.7 665h0M619.2 590.3h0M583.3 566.7h0M533.5 628.2h0M533.6 619.8h0M533.7 623.7h0M535.4 598h0M535.3 608.9h0M543.7 649.2h0M588.8 568h0M611.5 654.6h0M625.3 604.4h0" stroke="#031403" stroke-width="2.5" stroke-opacity="0.85" stroke-linecap="round" fill="none"/>
<rect x="485.5" y="543" width="190" height="148.5" fill="none" stroke="#000" stroke-width="1.3"/>
<path d="M533 691.5v-2.6 M533 543v2.6 M580.5 691.5v-2.6 M580.5 543v2.6 M628 691.5v-2.6 M628 543v2.6 M485.5 666.8h2.6 M675.5 666.8h-2.6 M485.5 642h2.6 M675.5 642h-2.6 M485.5 617.2h2.6 M675.5 617.2h-2.6 M485.5 592.5h2.6 M675.5 592.5h-2.6 M485.5 567.8h2.6 M675.5 567.8h-2.6" stroke="#000" stroke-width="1" fill="none"/>
<text x="483.4" y="546.5" font-size="9.6" fill="#000" text-anchor="end">3</text>
<text x="483.4" y="571.2" font-size="9.6" fill="#000" text-anchor="end">2</text>
<text x="483.4" y="596" font-size="9.6" fill="#000" text-anchor="end">1</text>
<text x="483.4" y="620.8" font-size="9.6" fill="#000" text-anchor="end">0</text>
<text x="483.4" y="645.5" font-size="9.6" fill="#000" text-anchor="end">-1</text>
<text x="483.4" y="670.2" font-size="9.6" fill="#000" text-anchor="end">-2</text>
<text x="483.4" y="695" font-size="9.6" fill="#000" text-anchor="end">-3</text>
<text x="484.3" y="703.4" font-size="9.6" fill="#000" text-anchor="middle">-4</text>
<text x="531.8" y="703.4" font-size="9.6" fill="#000" text-anchor="middle">-2</text>
<text x="580.5" y="703.4" font-size="9.6" fill="#000" text-anchor="middle">0</text>
<text x="628" y="703.4" font-size="9.6" fill="#000" text-anchor="middle">2</text>
<text x="675.5" y="703.4" font-size="9.6" fill="#000" text-anchor="middle">4</text>
<text x="455.6" y="617.6" font-size="17.4" fill="#000" text-anchor="middle" transform="rotate(-90 455.6 617.6)">MDS Dimension 2</text>
<text x="580.5" y="726.3" font-size="17.35" fill="#000" text-anchor="middle">MDS Dimension 1</text>
<polyline points="144.4,865.7 148.8,871.7 153.2,979.4 157.7,979.5 162.1,979.5 166.5,979.6 170.9,979.6 175.3,979.6 179.7,979.6 184.2,979.6 188.6,979.7 193,979.7 197.4,979.7 201.8,979.7 206.2,979.7 210.7,979.8 215.1,979.8 219.5,979.8 223.9,979.8 228.3,979.8 232.7,979.9 237.2,979.9 241.6,979.9 246,979.9 250.4,979.9 254.8,979.9 259.2,979.9 263.6,979.9 268.1,980 272.5,980 276.9,980 281.3,980 285.7,980 290.1,980 294.6,980 299,980 303.4,980 307.8,980.1 312.2,980.1 316.6,980.1 321.1,980.1 325.5,980.1 329.9,980.1 334.3,980.1 338.7,980.1 343.1,980.1 347.6,980.1 352,980.2 356.4,980.2 360.8,980.2" fill="none" stroke="#cc2230" stroke-width="1.5"/>
<polyline points="144.4,977.2 148.8,977.3 153.2,977.3 157.7,977.4 162.1,977.5 166.5,977.5 170.9,977.5 175.3,977.6 179.7,977.6 184.2,977.7 188.6,977.7 193,977.7 197.4,977.8 201.8,977.8 206.2,977.8 210.7,977.9 215.1,977.9 219.5,977.9 223.9,977.9 228.3,978 232.7,978 237.2,978 241.6,978.1 246,978.1 250.4,978.1 254.8,978.2 259.2,978.2 263.6,978.2 268.1,978.3 272.5,978.3 276.9,978.3 281.3,978.3 285.7,978.3 290.1,978.3 294.6,978.4 299,978.4 303.4,978.4 307.8,978.5 312.2,978.5 316.6,978.5 321.1,978.5 325.5,978.5 329.9,978.6 334.3,978.6 338.7,978.6 343.1,978.6 347.6,978.6 352,978.7 356.4,978.7 360.8,978.7" fill="none" stroke="#1c30c0" stroke-width="1.6"/>
<rect x="140" y="808.6" width="220.8" height="173" fill="none" stroke="#000" stroke-width="1.3"/>
<path d="M184.2 981.6v-2.6 M184.2 808.6v2.6 M228.3 981.6v-2.6 M228.3 808.6v2.6 M272.5 981.6v-2.6 M272.5 808.6v2.6 M316.6 981.6v-2.6 M316.6 808.6v2.6 M140 938.4h2.6 M360.8 938.4h-2.6 M140 895.1h2.6 M360.8 895.1h-2.6 M140 851.9h2.6 M360.8 851.9h-2.6" stroke="#000" stroke-width="1" fill="none"/>
<text x="138.4" y="812.7" font-size="11.5" fill="#000" text-anchor="end" letter-spacing="0.4">0.4</text>
<text x="138.4" y="856" font-size="11.5" fill="#000" text-anchor="end" letter-spacing="0.4">0.3</text>
<text x="138.4" y="899.2" font-size="11.5" fill="#000" text-anchor="end" letter-spacing="0.4">0.2</text>
<text x="138.4" y="942.5" font-size="11.5" fill="#000" text-anchor="end" letter-spacing="0.4">0.1</text>
<text x="138.4" y="985.7" font-size="11.5" fill="#000" text-anchor="end" letter-spacing="0.4">0</text>
<text x="140" y="995.2" font-size="11.3" fill="#000" text-anchor="middle">0</text>
<text x="184.2" y="995.2" font-size="11.3" fill="#000" text-anchor="middle">10</text>
<text x="228.3" y="995.2" font-size="11.3" fill="#000" text-anchor="middle">20</text>
<text x="272.5" y="995.2" font-size="11.3" fill="#000" text-anchor="middle">30</text>
<text x="316.6" y="995.2" font-size="11.3" fill="#000" text-anchor="middle">40</text>
<text x="360.8" y="995.2" font-size="11.3" fill="#000" text-anchor="middle">50</text>
<text x="103.6" y="894.6" font-size="17.4" fill="#000" text-anchor="middle" transform="rotate(-90 103.6 894.6)">Eigenvalue/&#931;Eigenvalues</text>
<text x="244.2" y="1018.7" font-size="17.3" fill="#000" text-anchor="middle">Principal Components</text>
<text x="155.2" y="870.5" font-size="17.2" fill="#a81e2a" text-anchor="start">Two Clusters</text>
<text x="210.3" y="969.2" font-size="17.4" fill="#222e9e" text-anchor="start">Zero Clusters</text>
<text x="176.3" y="957.3" font-size="17.5" fill="#000" text-anchor="middle">3</text>
<path d="M171.2 960.2L158.6 972.6" stroke="#000" stroke-width="1.2" marker-end="url(#ah)"/>
<polyline points="465.8,981.6 466.9,979.8 468,978.1 469.1,976.4 470.2,974.7 471.3,973.1 472.4,971.4 473.5,969.8 474.6,968.2 475.7,966.6 476.8,965 477.9,963.5 479,961.9 480.1,960.4 481.2,958.9 482.3,957.4 483.4,955.9 484.5,954.4 485.6,953 486.7,951.5 487.8,950 488.9,948.6 490,947.2 491.1,945.8 492.2,944.3 493.4,942.9 494.5,941.6 495.6,940.2 496.7,938.8 497.8,937.5 498.9,936.2 500,934.9 501.1,933.5 502.2,932.2 503.3,930.9 504.4,929.6 505.5,928.3 506.6,927.1 507.7,925.8 508.8,924.6 509.9,923.3 511,922.1 512.1,920.8 513.2,919.6 514.3,918.4 515.4,917.2 516.5,916 517.6,914.8 518.7,913.6 519.8,912.5 520.9,911.3 522,910.1 523.1,909 524.2,907.8 525.3,906.7 526.4,905.6 527.5,904.5 528.6,903.4 529.7,902.3 530.8,901.2 531.9,900.1 533,899.1 534.1,898 535.2,897 536.3,895.9 537.4,894.9 538.5,893.8 539.6,892.8 540.7,891.8 541.8,890.8 542.9,889.8 544,888.8 545.1,887.8 546.2,886.8 547.3,885.8 548.5,884.8 549.6,883.9 550.7,882.9 551.8,881.9 552.9,881 554,880.1 555.1,879.1 556.2,878.2 557.3,877.3 558.4,876.4 559.5,875.5 560.6,874.6 561.7,873.7 562.8,872.8 563.9,871.9 565,871 566.1,870.2 567.2,869.3 568.3,868.4 569.4,867.6 570.5,866.7 571.6,865.9 572.7,865.1 573.8,864.2 574.9,863.4 576,862.6 577.1,861.8 578.2,861 579.3,860.2 580.4,859.4 581.5,858.6 582.6,857.8 583.7,857 584.8,856.3 585.9,855.5 587,854.7 588.1,854 589.2,853.2 590.3,852.5 591.4,851.8 592.5,851 593.6,850.3 594.7,849.6 595.8,848.9 596.9,848.2 598,847.5 599.1,846.8 600.2,846.1 601.3,845.4 602.4,844.8 603.6,844.1 604.7,843.4 605.8,842.7 606.9,842.1 608,841.4 609.1,840.8 610.2,840.2 611.3,839.5 612.4,838.9 613.5,838.3 614.6,837.6 615.7,837 616.8,836.4 617.9,835.8 619,835.2 620.1,834.6 621.2,834 622.3,833.5 623.4,832.9 624.5,832.3 625.6,831.7 626.7,831.2 627.8,830.6 628.9,830.1 630,829.5 631.1,829 632.2,828.4 633.3,827.9 634.4,827.4 635.5,826.9 636.6,826.3 637.7,825.8 638.8,825.3 639.9,824.8 641,824.3 642.1,823.8 643.2,823.3 644.3,822.8 645.4,822.3 646.5,821.9 647.6,821.4 648.7,820.9 649.8,820.5 650.9,820 652,819.6 653.1,819.1 654.2,818.7 655.3,818.2 656.4,817.8 657.5,817.4 658.7,816.9 659.8,816.5 660.9,816.1 662,815.7 663.1,815.3 664.2,814.9 665.3,814.5 666.4,814.2 667.5,813.8 668.6,813.4 669.7,813 670.8,812.7 671.9,812.3 673,812 674.1,811.6 675.2,811.3 676.3,810.9 677.4,810.6 678.5,810.3 679.6,810 680.7,809.7 681.8,809.4 682.9,809.1 684,808.8 685.1,808.5 686.2,808.5" fill="none" stroke="#1c30c0" stroke-width="1.5"/>
<polyline points="466.9,935.2 468,891.2 469.1,890.4 470.2,889.5 471.3,888.7 472.4,887.9 473.5,887.1 474.6,886.3 475.7,885.5 476.8,884.7 477.9,884 479,883.2 480.1,882.5 481.2,881.7 482.3,881 483.4,880.2 484.5,879.5 485.6,878.8 486.7,878.1 487.8,877.4 488.9,876.7 490,876 491.1,875.3 492.2,874.6 493.4,873.9 494.5,873.3 495.6,872.6 496.7,871.9 497.8,871.3 498.9,870.6 500,870 501.1,869.3 502.2,868.7 503.3,868 504.4,867.4 505.5,866.8 506.6,866.2 507.7,865.5 508.8,864.9 509.9,864.3 511,863.7 512.1,863.1 513.2,862.5 514.3,861.9 515.4,861.3 516.5,860.8 517.6,860.2 518.7,859.6 519.8,859 520.9,858.5 522,857.9 523.1,857.4 524.2,856.8 525.3,856.3 526.4,855.7 527.5,855.2 528.6,854.6 529.7,854.1 530.8,853.6 531.9,853 533,852.5 534.1,852 535.2,851.5 536.3,851 537.4,850.4 538.5,849.9 539.6,849.4 540.7,848.9 541.8,848.4 542.9,848 544,847.5 545.1,847 546.2,846.5 547.3,846 548.5,845.5 549.6,845.1 550.7,844.6 551.8,844.1 552.9,843.7 554,843.2 555.1,842.8 556.2,842.3 557.3,841.9 558.4,841.4 559.5,841 560.6,840.5 561.7,840.1 562.8,839.7 563.9,839.2 565,838.8 566.1,838.4 567.2,838 568.3,837.6 569.4,837.1 570.5,836.7 571.6,836.3 572.7,835.9 573.8,835.5 574.9,835.1 576,834.7 577.1,834.3 578.2,833.9 579.3,833.6 580.4,833.2 581.5,832.8 582.6,832.4 583.7,832 584.8,831.7 585.9,831.3 587,830.9 588.1,830.6 589.2,830.2 590.3,829.8 591.4,829.5 592.5,829.1 593.6,828.8 594.7,828.4 595.8,828.1 596.9,827.7 598,827.4 599.1,827 600.2,826.7 601.3,826.4 602.4,826 603.6,825.7 604.7,825.4 605.8,825.1 606.9,824.7 608,824.4 609.1,824.1 610.2,823.8 611.3,823.5 612.4,823.2 613.5,822.9 614.6,822.6 615.7,822.3 616.8,822 617.9,821.7 619,821.4 620.1,821.1 621.2,820.8 622.3,820.5 623.4,820.2 624.5,820 625.6,819.7 626.7,819.4 627.8,819.1 628.9,818.9 630,818.6 631.1,818.3 632.2,818.1 633.3,817.8 634.4,817.6 635.5,817.3 636.6,817.1 637.7,816.8 638.8,816.6 639.9,816.3 641,816.1 642.1,815.8 643.2,815.6 644.3,815.4 645.4,815.1 646.5,814.9 647.6,814.7 648.7,814.5 649.8,814.2 650.9,814 652,813.8 653.1,813.6 654.2,813.4 655.3,813.2 656.4,813 657.5,812.8 658.7,812.6 659.8,812.4 660.9,812.2 662,812 663.1,811.8 664.2,811.6 665.3,811.4 666.4,811.2 667.5,811 668.6,810.8 669.7,810.7 670.8,810.5 671.9,810.3 673,810.2 674.1,810 675.2,809.8 676.3,809.7 677.4,809.5 678.5,809.4 679.6,809.2 680.7,809.1 681.8,808.9 682.9,808.8 684,808.6 685.1,808.5 686.2,808.5" fill="none" stroke="#cc2230" stroke-width="1.5"/>
<rect x="465.8" y="808.5" width="220.4" height="173.1" fill="none" stroke="#000" stroke-width="1.3"/>
<path d="M520.9 981.6v-2.6 M520.9 808.5v2.6 M576 981.6v-2.6 M576 808.5v2.6 M631.1 981.6v-2.6 M631.1 808.5v2.6 M465.8 947h2.6 M686.2 947h-2.6 M465.8 912.4h2.6 M686.2 912.4h-2.6 M465.8 877.7h2.6 M686.2 877.7h-2.6 M465.8 843.1h2.6 M686.2 843.1h-2.6" stroke="#000" stroke-width="1" fill="none"/>
<text x="463.8" y="812.6" font-size="11.5" fill="#000" text-anchor="end" letter-spacing="0.4">1</text>
<text x="463.8" y="847.2" font-size="11.5" fill="#000" text-anchor="end" letter-spacing="0.4">0.8</text>
<text x="463.8" y="881.8" font-size="11.5" fill="#000" text-anchor="end" letter-spacing="0.4">0.6</text>
<text x="463.8" y="916.5" font-size="11.5" fill="#000" text-anchor="end" letter-spacing="0.4">0.4</text>
<text x="463.8" y="951.1" font-size="11.5" fill="#000" text-anchor="end" letter-spacing="0.4">0.2</text>
<text x="463.8" y="985.7" font-size="11.5" fill="#000" text-anchor="end" letter-spacing="0.4">0</text>
<text x="465.8" y="995.2" font-size="11.3" fill="#000" text-anchor="middle">0</text>
<text x="520.9" y="995.2" font-size="11.3" fill="#000" text-anchor="middle">50</text>
<text x="576" y="995.2" font-size="11.3" fill="#000" text-anchor="middle">100</text>
<text x="631.1" y="995.2" font-size="11.3" fill="#000" text-anchor="middle">150</text>
<text x="686.2" y="995.2" font-size="11.3" fill="#000" text-anchor="middle">200</text>
<text x="416.4" y="894.5" font-size="17.35" fill="#000" text-anchor="middle" transform="rotate(-90 416.4 894.5)">Proportion Variance</text>
<text x="437.4" y="894.4" font-size="17.35" fill="#000" text-anchor="middle" transform="rotate(-90 437.4 894.4)">Explained</text>
<text x="573.8" y="1019" font-size="17.1" fill="#000" text-anchor="middle">Cumulative PCs</text>
<text x="472.8" y="828.7" font-size="17.3" fill="#a81e2a" text-anchor="start">Two Clusters</text>
<text x="541.5" y="914.3" font-size="17.3" fill="#222e9e" text-anchor="start">Zero Clusters</text>
<text x="489.4" y="919.4" font-size="17.5" fill="#000" text-anchor="middle">2</text>
<path d="M484.4 907.6L472.6 895.6" stroke="#000" stroke-width="1.2" marker-end="url(#ah)"/>
</svg></body></html>
